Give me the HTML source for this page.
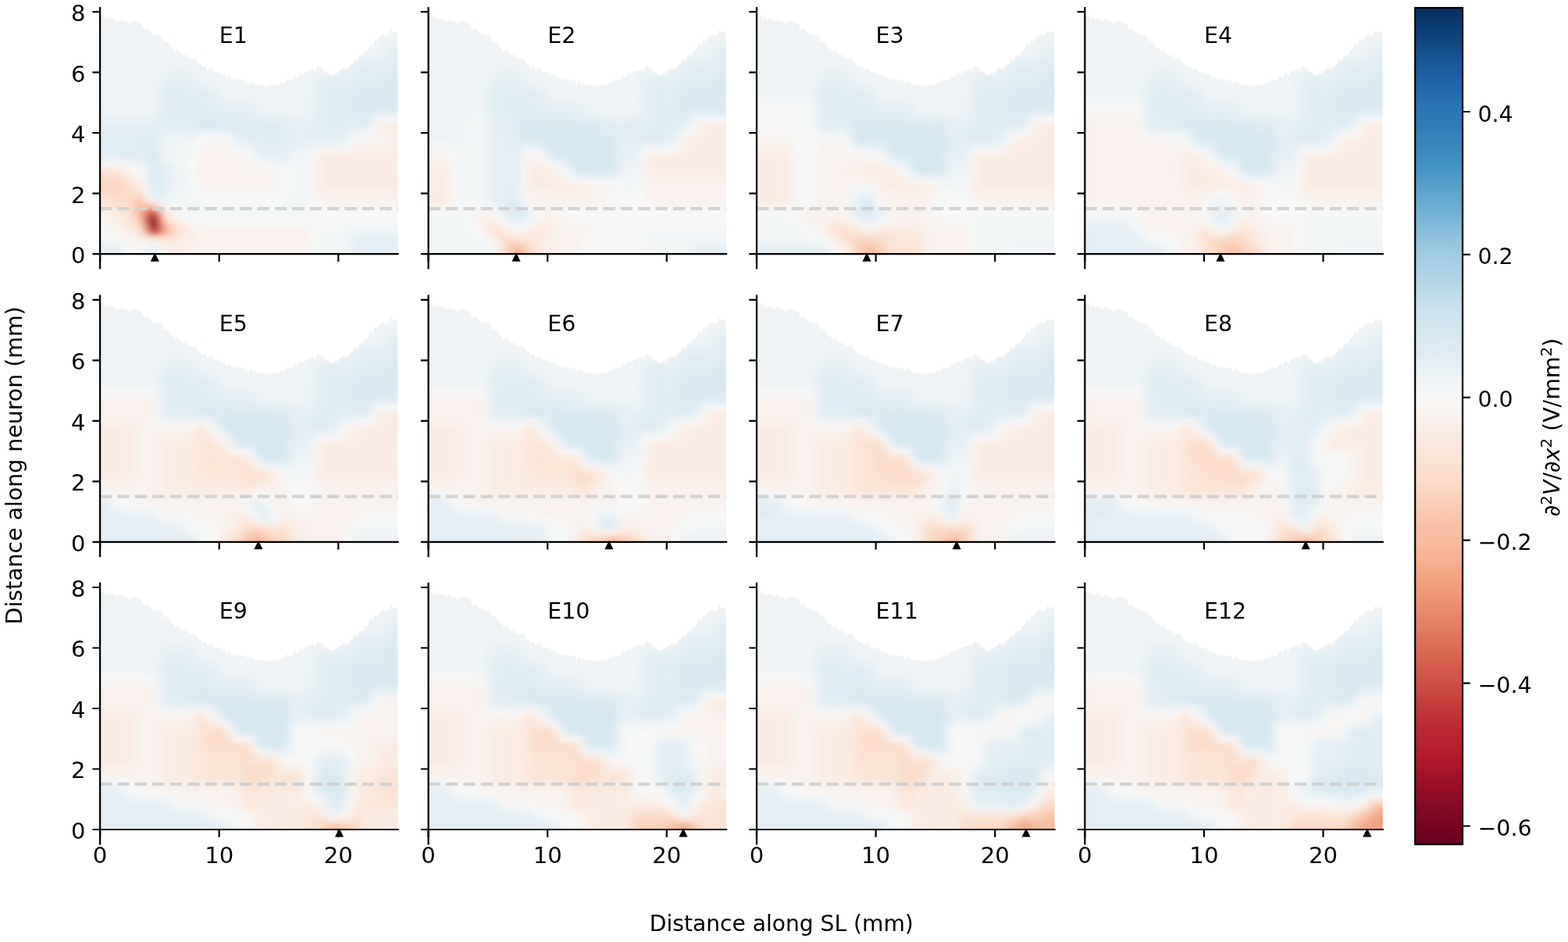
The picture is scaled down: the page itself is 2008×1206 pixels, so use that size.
<!DOCTYPE html>
<html><head><meta charset="utf-8"><style>
html,body{margin:0;padding:0;background:#fff;}
body{width:2008px;height:1206px;overflow:hidden;}
svg{display:block;}
text{font-family:"DejaVu Sans","Liberation Sans",sans-serif;font-size:27.78px;fill:#000;}
</style></head><body>
<svg width="2008" height="1206" viewBox="0 0 2008 1206">
<defs><clipPath id="hc"><path d="M0 0L0 -303.9L1.5 -305.8L3 -304.3L4.5 -305.7L6 -305.3L7.5 -300.8L9 -299.9L10.5 -305.1L12 -300.5L13.5 -299.7L15 -304.4L16.5 -300.2L18 -302.2L19.5 -299.1L21 -300L22.5 -296.4L24 -299.6L25.5 -301L27 -298.4L28.5 -299.7L30 -299L31.5 -294.6L33 -299.2L34.5 -297.9L36 -295.7L37.5 -293.6L39 -299.2L40.5 -296.3L42 -297.8L43.5 -298.7L45 -297.4L46.5 -298.6L48 -294.8L49.5 -297.4L51 -294L52.5 -296.3L54 -294.8L55.5 -288.3L57 -287.5L58.5 -287L60 -291.1L61.5 -286.3L63 -286.5L64.5 -283.3L66 -283.7L67.5 -281.9L69 -280.8L70.5 -281.4L72 -280.5L73.5 -281.8L75 -279.3L76.5 -280L78 -278.5L79.5 -278.2L81 -274.7L82.5 -269.9L84 -273.5L85.5 -273L87 -271.4L88.5 -267.8L90 -267.5L91.5 -262.8L93 -265.9L94.5 -262.8L96 -260L97.5 -257.7L99 -262.4L100.5 -262.6L102 -255.5L103.5 -259.6L105 -256.1L106.5 -253.5L108 -253.7L109.5 -256.2L111 -256.2L112.5 -249.6L114 -252.8L115.5 -248L117 -251.9L118.5 -248.4L120 -251.4L121.5 -251.2L123 -247L124.5 -249.5L126 -243.8L127.5 -241.3L129 -244L130.5 -239.2L132 -239.4L133.5 -240L135 -240.5L136.5 -236.4L138 -234.8L139.5 -239.6L141 -235.1L142.5 -239L144 -237.9L145.5 -233.6L147 -233.5L148.5 -233.3L150 -233.5L151.5 -232.5L153 -231.6L154.5 -231.4L156 -232.9L157.5 -229.3L159 -228.1L160.5 -229.4L162 -225.4L163.5 -225.2L165 -229.5L166.5 -225.9L168 -225.8L169.5 -221.7L171 -224.2L172.5 -225L174 -220.8L175.5 -224.6L177 -224.4L178.5 -220.1L180 -223.7L181.5 -222.2L183 -223.4L184.5 -220.8L186 -222.9L187.5 -222.8L189 -217.5L190.5 -217.4L192 -221.4L193.5 -223L195 -217.7L196.5 -218.8L198 -219.4L199.5 -217.2L201 -217.1L202.5 -216.4L204 -216.4L205.5 -217.7L207 -215.2L208.5 -215.4L210 -217.8L211.5 -212.2L213 -216.1L214.5 -217.5L216 -214.8L217.5 -214.4L219 -218.7L220.5 -215L222 -214.9L223.5 -216.8L225 -218.9L226.5 -215L228 -216.7L229.5 -217.1L231 -220.8L232.5 -218.5L234 -222.1L235.5 -218L237 -219.8L238.5 -222.7L240 -225L241.5 -222.6L243 -221.7L244.5 -221.6L246 -225.2L247.5 -223.5L249 -228.4L250.5 -229.3L252 -225.4L253.5 -226.9L255 -231.3L256.5 -231L258 -232.9L259.5 -230.5L261 -229.7L262.5 -231.6L264 -235.9L265.5 -233.1L267 -234.2L268.5 -235L270 -235.4L271.5 -235.6L273 -239.5L274.5 -234.5L276 -233.7L277.5 -240.6L279 -240.4L280.5 -241.5L282 -237.5L283.5 -239.9L285 -238.5L286.5 -232.3L288 -234.7L289.5 -234.1L291 -231.7L292.5 -230.5L294 -229.1L295.5 -229.7L297 -229.1L298.5 -228.3L300 -232.1L301.5 -230.2L303 -234.1L304.5 -229L306 -235.2L307.5 -234.6L309 -237.1L310.5 -237.9L312 -238.9L313.5 -237.6L315 -234.7L316.5 -240.7L318 -237.7L319.5 -239.6L321 -243.1L322.5 -243.4L324 -243.9L325.5 -248.9L327 -247.9L328.5 -247.4L330 -248.1L331.5 -253.6L333 -252.3L334.5 -255.7L336 -254L337.5 -254.5L339 -258.4L340.5 -262L342 -259.1L343.5 -265L345 -267.5L346.5 -268.3L348 -270L349.5 -265.9L351 -271.8L352.5 -275L354 -270.8L355.5 -273.8L357 -275.2L358.5 -278.5L360 -279.2L361.5 -280.8L363 -283.4L364.5 -278.4L366 -279.2L367.5 -280.1L369 -280.5L370.5 -280.6L372 -287.3L373.5 -286.9L375 -282L376.5 -285.2L378 -283.9L379.5 -283.9L381 -284.2L381.5 0Z"/></clipPath><filter id="hb" x="-10%" y="-10%" width="120%" height="120%"><feGaussianBlur stdDeviation="5 3"/></filter><linearGradient id="cb" x1="0" y1="0" x2="0" y2="1"><stop offset="0" stop-color="#053061"/><stop offset="0.01" stop-color="#073467"/><stop offset="0.02" stop-color="#0a3b70"/><stop offset="0.03" stop-color="#0e4179"/><stop offset="0.04" stop-color="#114781"/><stop offset="0.05" stop-color="#144e8a"/><stop offset="0.06" stop-color="#185493"/><stop offset="0.07" stop-color="#1b5a9c"/><stop offset="0.08" stop-color="#1d5fa2"/><stop offset="0.09" stop-color="#2065ab"/><stop offset="0.1" stop-color="#246aae"/><stop offset="0.11" stop-color="#2870b1"/><stop offset="0.12" stop-color="#2c75b4"/><stop offset="0.14" stop-color="#307ab6"/><stop offset="0.15" stop-color="#3480b9"/><stop offset="0.16" stop-color="#3783bb"/><stop offset="0.17" stop-color="#3b88be"/><stop offset="0.18" stop-color="#3f8ec0"/><stop offset="0.19" stop-color="#4393c3"/><stop offset="0.2" stop-color="#4c99c6"/><stop offset="0.21" stop-color="#569fc9"/><stop offset="0.22" stop-color="#5fa5cd"/><stop offset="0.23" stop-color="#65a9cf"/><stop offset="0.24" stop-color="#6eaed2"/><stop offset="0.25" stop-color="#78b4d5"/><stop offset="0.26" stop-color="#81bad8"/><stop offset="0.27" stop-color="#8ac0db"/><stop offset="0.28" stop-color="#93c6de"/><stop offset="0.29" stop-color="#9bc9e0"/><stop offset="0.3" stop-color="#a2cde3"/><stop offset="0.31" stop-color="#a7d0e4"/><stop offset="0.32" stop-color="#aed3e6"/><stop offset="0.33" stop-color="#b6d7e8"/><stop offset="0.34" stop-color="#bddbea"/><stop offset="0.35" stop-color="#c5dfec"/><stop offset="0.36" stop-color="#cce2ef"/><stop offset="0.38" stop-color="#d2e6f0"/><stop offset="0.39" stop-color="#d5e7f1"/><stop offset="0.4" stop-color="#dae9f2"/><stop offset="0.41" stop-color="#deebf2"/><stop offset="0.42" stop-color="#e3edf3"/><stop offset="0.43" stop-color="#e7f0f4"/><stop offset="0.44" stop-color="#ecf2f5"/><stop offset="0.45" stop-color="#f0f4f6"/><stop offset="0.46" stop-color="#f3f5f6"/><stop offset="0.47" stop-color="#f7f6f6"/><stop offset="0.48" stop-color="#f8f3f0"/><stop offset="0.49" stop-color="#f8f1ed"/><stop offset="0.5" stop-color="#f9eee7"/><stop offset="0.51" stop-color="#f9ebe3"/><stop offset="0.52" stop-color="#fae8de"/><stop offset="0.53" stop-color="#fbe6da"/><stop offset="0.54" stop-color="#fbe3d4"/><stop offset="0.55" stop-color="#fce0d0"/><stop offset="0.56" stop-color="#fdddcb"/><stop offset="0.57" stop-color="#fddbc7"/><stop offset="0.58" stop-color="#fcd5bf"/><stop offset="0.59" stop-color="#fbd0b9"/><stop offset="0.6" stop-color="#facab1"/><stop offset="0.61" stop-color="#f9c6ac"/><stop offset="0.62" stop-color="#f8bfa4"/><stop offset="0.64" stop-color="#f8bb9e"/><stop offset="0.65" stop-color="#f7b596"/><stop offset="0.66" stop-color="#f6b191"/><stop offset="0.67" stop-color="#f5aa89"/><stop offset="0.68" stop-color="#f4a683"/><stop offset="0.69" stop-color="#f19e7d"/><stop offset="0.7" stop-color="#ef9979"/><stop offset="0.71" stop-color="#eb9172"/><stop offset="0.72" stop-color="#e98b6e"/><stop offset="0.73" stop-color="#e58368"/><stop offset="0.74" stop-color="#e37e64"/><stop offset="0.75" stop-color="#df765e"/><stop offset="0.76" stop-color="#dd7059"/><stop offset="0.77" stop-color="#da6853"/><stop offset="0.78" stop-color="#d7634f"/><stop offset="0.79" stop-color="#d35a4a"/><stop offset="0.8" stop-color="#d05548"/><stop offset="0.81" stop-color="#cc4c44"/><stop offset="0.82" stop-color="#c94741"/><stop offset="0.83" stop-color="#c53e3d"/><stop offset="0.84" stop-color="#c2383a"/><stop offset="0.85" stop-color="#be3036"/><stop offset="0.86" stop-color="#bb2a34"/><stop offset="0.88" stop-color="#b72230"/><stop offset="0.89" stop-color="#b41c2d"/><stop offset="0.9" stop-color="#ae172a"/><stop offset="0.91" stop-color="#a81529"/><stop offset="0.92" stop-color="#9f1228"/><stop offset="0.93" stop-color="#991027"/><stop offset="0.94" stop-color="#900d26"/><stop offset="0.95" stop-color="#8a0b25"/><stop offset="0.96" stop-color="#810823"/><stop offset="0.97" stop-color="#7c0722"/><stop offset="0.98" stop-color="#730421"/><stop offset="0.99" stop-color="#6d0220"/><stop offset="1" stop-color="#67001f"/></linearGradient></defs>
<g transform="translate(128.1 325.2)"><g clip-path="url(#hc)"><g filter="url(#hb)" stroke-width="8"><path stroke="#810823" d="M64 -36h8M64 -44h8"/><path stroke="#ba2832" d="M64 -52h8"/><path stroke="#bf3338" d="M64 -28h8"/><path stroke="#cc4c44" d="M72 -36h8"/><path stroke="#d35a4a" d="M56 -44h8"/><path stroke="#d6604d" d="M72 -44h8"/><path stroke="#dc6e57" d="M72 -28h8M56 -36h8"/><path stroke="#de735c" d="M56 -52h8"/><path stroke="#ec9374" d="M72 -52h8"/><path stroke="#f2a17f" d="M56 -28h8"/><path stroke="#f5ac8b" d="M48 -52h8"/><path stroke="#f6b191" d="M80 -28h8"/><path stroke="#f7b596" d="M56 -60h8"/><path stroke="#f7b99c" d="M80 -36h8M48 -44h8M48 -60h8M64 -60h8"/><path stroke="#f8bfa4" d="M48 -68h8"/><path stroke="#fbceb7" d="M88 -28h8M40 -52h8"/><path stroke="#fcd3bc" d="M48 -36h8M88 -36h8M40 -60h8M40 -68h8M16 -84h8"/><path stroke="#fcd7c2" d="M-16 -84h32M24 -84h8M-16 -92h40"/><path stroke="#fdd9c4" d="M40 -44h8M80 -44h8M16 -76h16"/><path stroke="#fddcc9" d="M80 -20h8M24 -68h16M8 -76h8M32 -76h24M32 -84h8M24 -92h8"/><path stroke="#fcdecd" d="M64 -20h16M72 -60h8M16 -68h8M-16 -76h24M-16 -100h40"/><path stroke="#fce0d0" d="M96 -28h8M40 -36h8M32 -60h8M32 -92h8"/><path stroke="#fce2d2" d="M88 -20h8M48 -28h8M24 -60h8M8 -68h8M40 -84h8"/><path stroke="#fbe4d6" d="M32 -52h8M16 -60h8M-16 -68h24M24 -100h8"/><path stroke="#fbe6da" d="M104 -28h8M96 -36h8M32 -44h8M88 -44h8M24 -52h8M56 -68h8M-16 -108h40"/><path stroke="#fae8de" d="M56 -20h8M96 -20h8M40 -28h8M80 -52h8M8 -60h8"/><path stroke="#fae9df" d="M104 -20h8M32 -36h8M24 -44h8M16 -52h8M-16 -60h24M48 -84h8M40 -92h8M32 -100h8"/><path stroke="#f9ebe3" d="M96 4h8M96 -4h8M80 -12h24M112 -20h8M112 -28h8M104 -36h8M280 -84h120M280 -92h120M280 -100h120M24 -108h8M280 -108h120M280 -116h120M280 -124h120M360 -164h40"/><path stroke="#f9eee7" d="M104 -12h8M32 -28h8M24 -36h8M16 -44h8M8 -52h8M328 -132h72M360 -156h40"/><path stroke="#f9f0eb" d="M88 4h8M104 4h8M88 -4h8M104 -4h8M112 -12h8M40 -20h16M120 -20h8M120 -28h8M112 -36h8M-16 -52h24M56 -76h8M280 -76h120M40 -100h8M320 -132h8M328 -140h72M352 -164h8"/><path stroke="#f8f1ed" d="M80 4h8M112 4h152M80 -4h8M112 -4h152M120 -12h144M32 -20h8M128 -20h136M24 -28h8M128 -28h136M16 -36h8M8 -44h8M96 -44h8M88 -52h8M280 -68h120M272 -84h8M48 -92h8M128 -92h96M272 -92h8M128 -100h96M272 -100h8M32 -108h8M128 -108h48M272 -108h8M128 -116h48M272 -116h8M128 -124h48M272 -124h8M144 -132h16M312 -132h8M144 -140h16M352 -148h48M352 -156h8"/><path stroke="#f8f3f0" d="M264 4h8M264 -4h8M264 -12h8M264 -20h8M16 -28h8M264 -28h8M8 -36h8M120 -36h8M-16 -44h24M104 -44h8M80 -60h8M272 -76h8M128 -84h96M176 -108h48M176 -116h16M176 -124h8M128 -132h16M160 -132h8M280 -132h32M136 -140h8M320 -140h8M344 -148h8"/><path stroke="#f7f5f4" d="M32 -12h24M72 -12h8M24 -20h8M8 -28h8M-16 -36h24M128 -36h144M280 -60h120M272 -68h8M136 -76h88M224 -84h8M120 -92h8M224 -92h8M48 -100h8M120 -100h8M224 -100h8M40 -108h8M120 -108h8M224 -108h8M-16 -116h40M120 -116h8M120 -124h8M184 -124h8M128 -140h8M160 -140h8M144 -148h16M328 -148h16"/><path stroke="#f6f7f7" d="M40 4h16M272 4h8M40 -4h16M272 -4h8M272 -12h8M-16 -20h40M272 -20h8M-16 -28h24M272 -28h8M272 -36h8M112 -44h16M280 -44h32M96 -52h8M280 -52h120M88 -60h8M272 -60h8M144 -68h80M128 -76h8M224 -76h8M120 -84h8M232 -84h8M232 -92h8M232 -100h8M48 -108h8M232 -108h8M192 -116h8M120 -132h8M168 -132h8M272 -132h8M120 -140h8M136 -148h8M360 -172h40"/><path stroke="#f5f6f7" d="M32 4h8M32 -4h8M56 -12h8M280 -36h32M128 -44h152M312 -44h88M104 -52h8M272 -52h8M96 -60h8M136 -60h96M136 -68h8M224 -68h8M120 -76h8M232 -76h16M56 -84h8M240 -84h8M264 -84h8M112 -92h8M240 -92h8M264 -92h8M112 -100h8M240 -100h8M264 -100h8M112 -108h8M240 -108h8M264 -108h8M24 -116h8M112 -116h8M264 -116h8M112 -124h8M264 -124h8M176 -132h8M128 -148h8M320 -148h8M344 -156h8"/><path stroke="#f2f5f6" d="M280 4h32M280 -4h32M24 -12h8M280 -12h32M280 -20h32M280 -28h40M312 -36h88M112 -52h160M104 -60h32M232 -60h40M96 -68h40M232 -68h40M96 -76h24M248 -76h24M104 -84h16M248 -84h16M248 -92h16M248 -100h16M104 -108h8M248 -108h16M104 -116h8M200 -116h24M248 -116h16M96 -124h16M192 -124h8M248 -124h16M96 -132h24M184 -132h8M96 -140h24M312 -140h8M120 -148h8M160 -148h8M352 -172h8"/><path stroke="#eff3f5" d="M56 4h8M72 4h8M312 4h8M56 -4h8M72 -4h8M312 -4h8M64 -12h8M312 -12h8M312 -20h8M80 -68h16M96 -84h8M96 -92h16M96 -100h16M96 -108h8M32 -116h8M96 -116h8M224 -116h8M240 -116h8M88 -124h8M80 -132h16M264 -132h8M80 -140h16M168 -140h8M96 -148h24M-16 -188h88M208 -188h56M-16 -196h88M208 -196h56M-16 -204h88M160 -204h104M-16 -212h88M160 -212h104M-16 -220h88M160 -220h104M-16 -228h88M128 -228h136M-16 -236h88M128 -236h144M-16 -244h328M-16 -252h328M-16 -260h336M-16 -268h376M-16 -276h376M-16 -284h416M-16 -292h416M-16 -300h416M-16 -308h416M-16 -316h416M-16 -324h416"/><path stroke="#ecf2f5" d="M-16 -12h40M320 -28h80M88 -76h8M56 -92h8M56 -100h8M40 -116h16M88 -116h8M232 -116h8M80 -124h8M240 -124h8M192 -132h8M248 -132h16M280 -140h32M80 -148h16M328 -156h16M344 -164h8M-16 -180h88M240 -180h24M200 -188h8M264 -188h8M192 -196h16M264 -196h8M152 -204h8M264 -204h8M152 -212h8M264 -212h8M128 -220h32M264 -220h8M264 -228h8M72 -236h8M120 -236h8M272 -236h8M312 -244h8M312 -252h8M320 -260h40M360 -268h8M360 -276h40"/><path stroke="#eaf1f5" d="M24 4h8M24 -4h8M320 -20h8M56 -108h8M176 -140h16M272 -140h8M136 -156h24M320 -156h8M200 -180h40M264 -180h8M160 -196h32M144 -212h8M72 -220h8M72 -228h8M120 -228h8M272 -228h8M80 -236h40M280 -236h40M320 -252h40M360 -260h8"/><path stroke="#e7f0f4" d="M320 4h8M320 -4h8M320 -12h8M64 -68h16M80 -76h8M88 -84h8M88 -92h8M88 -100h8M88 -108h8M80 -116h8M200 -124h8M240 -132h8M248 -140h24M168 -148h8M312 -148h8M88 -156h48M160 -156h8M-16 -172h88M248 -172h24M72 -188h8M192 -188h8M72 -196h8M152 -196h8M72 -204h8M72 -212h8M136 -212h8M272 -212h8M120 -220h8M272 -220h8M80 -228h40M280 -228h32M320 -244h8M360 -252h8M368 -268h32"/><path stroke="#e4eef4" d="M-16 4h40M64 4h8M328 4h72M-16 -4h40M64 -4h8M328 -4h72M328 -12h72M328 -20h72M56 -116h8M-16 -124h40M208 -124h32M72 -132h8M200 -132h8M72 -140h8M192 -140h8M240 -140h8M248 -148h16M80 -156h8M248 -156h16M248 -164h16M216 -172h32M344 -172h8M72 -180h8M192 -180h8M272 -180h8M152 -188h40M272 -188h8M272 -196h8M144 -204h8M272 -204h8M120 -212h16M112 -220h8M312 -228h8M320 -236h8M328 -244h32M368 -260h8"/><path stroke="#e1edf3" d="M64 -76h16M80 -84h8M24 -124h32M72 -124h8M208 -132h32M200 -140h8M72 -148h8M176 -148h16M240 -148h8M264 -148h48M-16 -156h72M72 -156h8M240 -156h8M264 -156h16M312 -156h8M-16 -164h96M240 -164h8M264 -164h8M72 -172h8M200 -172h16M272 -172h8M160 -180h32M352 -180h48M144 -196h8M136 -204h8M112 -212h8M80 -220h32M280 -220h40M320 -228h8M328 -236h32M360 -244h8M368 -252h32M376 -260h24"/><path stroke="#e0ecf3" d="M80 -92h8M80 -100h8M80 -108h8M72 -116h8M-16 -132h72M-16 -140h72M208 -140h32M-16 -148h72M192 -148h16M216 -148h24M56 -156h16M168 -156h8M216 -156h24M280 -156h32M80 -164h40M224 -164h16M272 -164h72M80 -172h40M192 -172h8M280 -172h32M80 -180h40M144 -180h16M280 -180h32M80 -188h72M280 -188h32M80 -196h64M280 -196h32M80 -204h56M280 -204h32M80 -212h32M280 -212h40M320 -220h8M328 -228h32M360 -236h8M368 -244h32"/><path stroke="#ddebf2" d="M64 -84h16M72 -92h8M72 -100h8M72 -108h8M56 -124h8M56 -132h8M56 -140h8M56 -148h8M208 -148h8M176 -156h40M120 -164h8M208 -164h16M120 -172h8M144 -172h48M312 -172h32M120 -180h24M312 -180h16M344 -180h8M312 -188h8M312 -196h8M312 -204h8M320 -212h40M328 -220h40M360 -228h8M368 -236h32"/><path stroke="#dae9f2" d="M64 -92h8M64 -100h8M64 -108h8M64 -116h8M64 -124h8M64 -132h8M64 -140h8M64 -148h8M128 -164h80M128 -172h16M328 -180h16M320 -188h80M320 -196h80M320 -204h80M360 -212h40M368 -220h32M368 -228h32"/></g></g></g>
<g transform="translate(548.6 325.2)"><g clip-path="url(#hc)"><g filter="url(#hb)" stroke-width="8"><path stroke="#f5aa89" d="M112 4h8M112 -4h8"/><path stroke="#f8bb9e" d="M104 4h8M104 -4h8"/><path stroke="#fac8af" d="M120 4h8M120 -4h8"/><path stroke="#facab1" d="M112 -12h8"/><path stroke="#fbceb7" d="M104 -12h8"/><path stroke="#fcd7c2" d="M96 -12h8"/><path stroke="#fdd9c4" d="M96 4h8M96 -4h8M120 -12h8M96 -20h8"/><path stroke="#fcdecd" d="M128 4h8M128 -4h8"/><path stroke="#fce2d2" d="M128 -12h8M104 -20h8M80 -28h8"/><path stroke="#fbe4d6" d="M88 -20h8M88 -28h8M80 -36h8"/><path stroke="#fbe6da" d="M136 4h8M136 -4h8M88 -12h8M120 -20h16"/><path stroke="#fae8de" d="M136 -12h8M112 -20h8M136 -20h8M96 -28h8M136 -28h16"/><path stroke="#fae9df" d="M128 -28h8M72 -36h8M144 -36h8"/><path stroke="#f9ebe3" d="M88 4h8M144 4h8M88 -4h8M144 -4h8M144 -12h8M144 -20h8M72 -28h8M152 -28h8M88 -36h8M136 -36h8M152 -36h8M-16 -68h40M-16 -76h40M-16 -84h40M128 -84h80M-16 -92h40M128 -92h40M-16 -100h40M128 -100h32M-16 -108h40M128 -108h24M280 -108h120M128 -116h8M280 -116h120M280 -124h120M328 -132h72M328 -140h72M344 -148h56M352 -156h48M352 -164h48"/><path stroke="#f9eee7" d="M80 -20h8M104 -28h8M120 -28h8M160 -28h8M64 -44h24M64 -52h8M168 -92h8M160 -100h8M280 -100h120M152 -108h8M128 -124h8M320 -132h8M328 -148h16M344 -156h8"/><path stroke="#f9f0eb" d="M152 4h8M152 -4h8M152 -12h8M152 -20h8M160 -36h8M144 -44h16M24 -68h8M24 -76h8M128 -76h80M24 -84h8M208 -84h8M24 -92h8M176 -92h8M24 -100h8M-16 -116h40M136 -116h8M344 -164h8"/><path stroke="#f8f1ed" d="M160 4h32M160 -4h32M160 -12h32M160 -20h32M112 -28h8M168 -28h24M64 -36h8M128 -36h8M168 -36h8M160 -44h8M72 -52h8M144 -52h16M-16 -60h40M144 -60h16M128 -68h96M280 -68h120M208 -76h16M280 -76h120M216 -84h8M280 -84h120M280 -92h120M168 -100h8M24 -108h8M160 -108h8M-16 -124h40M320 -140h8M336 -156h8"/><path stroke="#f8f3f0" d="M192 4h8M192 -4h8M192 -12h8M72 -20h8M192 -20h8M192 -28h16M96 -36h8M176 -36h32M56 -44h8M136 -44h8M56 -52h8M160 -52h8M160 -60h16M224 -76h8M224 -84h16M184 -92h8M272 -100h8M272 -108h8M24 -116h8M144 -116h8M136 -124h8M312 -132h8"/><path stroke="#f7f5f4" d="M80 -12h8M200 -20h8M64 -28h8M208 -28h8M56 -36h8M208 -36h8M168 -44h40M80 -52h8M168 -52h8M24 -60h8M64 -60h8M136 -60h8M176 -60h56M272 -60h128M224 -68h8M272 -68h8M232 -76h8M272 -76h8M120 -84h8M272 -84h8M120 -92h8M192 -92h16M272 -92h8M120 -100h8M120 -108h8M120 -116h8M272 -116h8M24 -124h8M120 -124h8M272 -124h8M-16 -132h40M280 -132h32"/><path stroke="#f6f7f7" d="M200 4h72M200 -4h72M200 -12h72M208 -20h64M56 -28h8M216 -28h56M120 -36h8M216 -36h56M88 -44h8M208 -44h192M-16 -52h40M48 -52h8M136 -52h8M176 -52h224M56 -60h8M232 -60h40M232 -68h40M240 -76h8M240 -84h8M208 -92h8M176 -100h8M168 -108h8M24 -132h8M128 -132h8M320 -148h8M336 -164h8M360 -172h40"/><path stroke="#f5f6f7" d="M272 4h8M272 -4h8M72 -12h8M272 -12h8M64 -20h8M272 -20h8M272 -28h8M48 -36h8M104 -36h8M272 -36h128M40 -44h16M24 -52h8M40 -52h8M32 -60h8M48 -60h8M72 -60h8M128 -60h8M32 -68h8M32 -76h8M120 -76h8M248 -76h24M32 -84h8M264 -84h8M32 -92h8M216 -92h24M32 -100h8M32 -108h8M32 -116h8M152 -116h8M32 -124h8M328 -156h8M352 -172h8"/><path stroke="#f2f5f6" d="M-16 4h104M280 4h48M-16 -4h104M280 -4h48M-16 -12h88M280 -12h48M-16 -20h80M280 -20h120M-16 -28h72M280 -28h120M-16 -36h64M-16 -44h56M32 -52h8M40 -60h8M40 -68h32M120 -68h8M40 -76h32M40 -84h32M248 -84h16M40 -92h32M240 -92h32M40 -100h32M264 -100h8M40 -108h32M40 -116h32M40 -124h32M144 -124h8M32 -132h40M272 -132h8M-16 -140h48M48 -140h24M48 -148h24M48 -156h24M48 -164h24M56 -172h16M344 -172h8"/><path stroke="#eff3f5" d="M328 4h8M328 -4h8M328 -12h8M112 -36h8M128 -44h8M80 -60h8M248 -100h16M264 -108h8M120 -132h8M136 -132h8M32 -140h16M312 -140h8M-16 -148h64M-16 -156h64M-16 -164h64M-16 -172h72M-16 -180h88M-16 -188h88M208 -188h56M-16 -196h88M208 -196h56M-16 -204h88M160 -204h104M-16 -212h88M160 -212h104M-16 -220h88M160 -220h104M-16 -228h88M128 -228h136M-16 -236h88M128 -236h144M-16 -244h328M-16 -252h328M-16 -260h336M-16 -268h376M-16 -276h376M-16 -284h416M-16 -292h416M-16 -300h416M-16 -308h416M-16 -316h416M-16 -324h416"/><path stroke="#ecf2f5" d="M336 -12h8M96 -44h8M88 -52h8M128 -52h8M248 -108h16M160 -116h8M320 -156h8M336 -172h8M224 -180h40M200 -188h8M264 -188h8M192 -196h16M264 -196h8M152 -204h8M264 -204h8M152 -212h8M264 -212h8M128 -220h32M264 -220h8M264 -228h8M72 -236h8M120 -236h8M272 -236h8M312 -244h8M312 -252h8M320 -260h40M360 -268h8M360 -276h40"/><path stroke="#eaf1f5" d="M344 -12h56M120 -60h8M72 -68h8M72 -76h8M72 -84h8M72 -92h8M72 -100h8M184 -100h8M240 -100h8M72 -108h8M176 -108h8M72 -116h8M248 -116h24M72 -124h8M72 -132h8M72 -140h8M280 -140h32M72 -148h8M72 -156h8M72 -164h8M72 -172h8M200 -180h24M264 -180h8M160 -196h32M144 -212h8M72 -220h8M72 -228h8M120 -228h8M272 -228h8M80 -236h40M280 -236h40M320 -252h40M360 -260h8"/><path stroke="#e7f0f4" d="M336 4h8M336 -4h8M120 -44h8M88 -60h8M112 -84h8M112 -92h8M112 -100h8M112 -108h8M112 -116h8M168 -116h8M112 -124h8M264 -124h8M144 -132h8M272 -140h8M328 -164h8M232 -172h24M72 -180h8M72 -188h8M192 -188h8M72 -196h8M152 -196h8M72 -204h8M72 -212h8M136 -212h8M272 -212h8M120 -220h8M272 -220h8M80 -228h40M280 -228h32M320 -244h8M360 -252h8M368 -268h32"/><path stroke="#e4eef4" d="M344 4h56M344 -4h56M104 -44h8M80 -68h16M80 -76h16M112 -76h8M80 -84h16M80 -92h32M80 -100h32M192 -100h24M224 -100h16M80 -108h32M80 -116h32M80 -124h32M248 -124h16M80 -132h16M112 -132h8M248 -132h24M80 -140h16M120 -140h16M248 -140h24M80 -148h16M312 -148h8M80 -156h16M80 -164h16M216 -172h16M256 -172h16M192 -180h8M272 -180h8M152 -188h40M272 -188h8M272 -196h8M144 -204h8M272 -204h8M120 -212h16M112 -220h8M312 -228h8M320 -236h8M328 -244h32M368 -260h8"/><path stroke="#e1edf3" d="M112 -44h8M96 -52h8M120 -52h8M96 -60h8M96 -68h8M112 -68h8M96 -76h16M96 -84h16M216 -100h8M240 -108h8M176 -116h8M240 -116h8M152 -124h8M96 -132h16M96 -140h16M96 -148h8M248 -148h24M96 -156h8M240 -156h24M312 -156h8M96 -164h8M232 -164h32M80 -172h24M200 -172h16M272 -172h8M328 -172h8M160 -180h32M344 -180h56M144 -196h8M136 -204h8M112 -212h8M80 -220h32M280 -220h40M320 -228h8M328 -236h32M360 -244h8M368 -252h32M376 -260h24"/><path stroke="#e0ecf3" d="M104 -52h8M104 -60h16M104 -68h8M240 -124h8M240 -132h8M112 -140h8M136 -140h8M240 -140h8M104 -148h8M240 -148h8M272 -148h40M104 -156h8M232 -156h8M264 -156h48M224 -164h8M264 -164h64M192 -172h8M280 -172h32M80 -180h32M144 -180h16M280 -180h32M336 -180h8M80 -188h72M280 -188h32M80 -196h64M280 -196h32M80 -204h56M280 -204h32M80 -212h32M280 -212h40M320 -220h8M328 -228h32M360 -236h8M368 -244h32"/><path stroke="#ddebf2" d="M112 -52h8M144 -140h8M112 -148h8M112 -156h8M224 -156h8M104 -164h8M216 -164h8M104 -172h8M144 -172h48M312 -172h16M112 -180h32M312 -180h24M312 -188h8M312 -196h8M312 -204h8M320 -212h40M328 -220h40M360 -228h8M368 -236h32"/><path stroke="#dae9f2" d="M184 -108h8M232 -108h8M232 -116h8M160 -124h8M232 -124h8M152 -132h8M232 -132h8M232 -140h8M120 -148h16M232 -148h8M120 -156h16M216 -156h8M112 -164h104M112 -172h32M320 -188h80M320 -196h80M320 -204h80M360 -212h40M368 -220h32M368 -228h32"/><path stroke="#d7e8f1" d="M224 -108h8M184 -116h8M224 -116h8M168 -124h16M224 -124h8M224 -132h8M152 -140h8M224 -140h8M136 -148h8M224 -148h8M136 -156h80"/><path stroke="#d5e7f1" d="M192 -108h32M192 -116h32M184 -124h40M160 -132h64M160 -140h64M144 -148h80"/></g></g></g>
<g transform="translate(969.0 325.2)"><g clip-path="url(#hc)"><g filter="url(#hb)" stroke-width="8"><path stroke="#f8bfa4" d="M144 4h8M144 -4h8"/><path stroke="#f9c4a9" d="M136 4h8M136 -4h8"/><path stroke="#facab1" d="M152 4h8M152 -4h8M136 -12h16"/><path stroke="#fbceb7" d="M128 4h8M128 -4h8M128 -12h8"/><path stroke="#fcd3bc" d="M152 -12h8"/><path stroke="#fcd7c2" d="M160 4h8M160 -4h8M128 -20h8"/><path stroke="#fdd9c4" d="M120 -20h8M136 -20h8"/><path stroke="#fddcc9" d="M120 -12h8M160 -12h8M144 -20h8"/><path stroke="#fcdecd" d="M112 -20h8M152 -20h8"/><path stroke="#fce0d0" d="M120 4h8M168 4h8M120 -4h8M168 -4h8M160 -20h8"/><path stroke="#fce2d2" d="M168 -12h8M96 -28h32"/><path stroke="#fbe4d6" d="M176 4h32M176 -4h32M176 -12h32M168 -20h8M128 -28h8M160 -28h8M96 -36h8"/><path stroke="#fbe6da" d="M112 -12h8M104 -20h8M176 -20h32M152 -28h8M104 -36h8"/><path stroke="#fae8de" d="M168 -28h8M112 -36h8"/><path stroke="#fae9df" d="M208 4h8M208 -4h8M208 -12h8M208 -20h8M88 -28h8M176 -28h32M88 -36h8"/><path stroke="#f9ebe3" d="M136 -28h8M120 -36h8M-16 -68h56M-16 -76h56M-16 -84h56M160 -84h64M280 -84h120M-16 -92h56M160 -92h24M280 -92h120M-16 -100h56M152 -100h24M280 -100h120M-16 -108h56M128 -108h40M280 -108h120M-16 -116h56M280 -116h120M-16 -124h56M280 -124h120M328 -132h72M328 -140h72M352 -148h48M360 -156h40M360 -164h40"/><path stroke="#f9eee7" d="M104 -12h8M96 -20h8M144 -28h8M208 -28h8M160 -36h48M96 -44h16M64 -52h8M152 -92h8M184 -92h8M144 -100h8M176 -100h8M120 -108h8M168 -108h8M-16 -132h56M320 -132h8M344 -148h8M352 -156h8"/><path stroke="#f9f0eb" d="M112 4h8M112 -4h8M208 -36h8M64 -44h16M88 -44h8M112 -44h8M72 -52h8M40 -68h8M40 -76h8M160 -76h64M280 -76h120M40 -84h8M152 -84h8M40 -92h8M192 -92h8M40 -100h8M120 -100h24M40 -108h8M40 -116h8M120 -116h40M40 -124h8M-16 -140h56M328 -148h16M352 -164h8"/><path stroke="#f8f1ed" d="M216 4h48M216 -4h48M216 -12h48M88 -20h8M216 -20h48M216 -28h48M80 -36h8M128 -36h8M152 -36h8M216 -36h8M80 -44h8M176 -44h48M80 -52h32M176 -52h48M-16 -60h56M72 -60h40M176 -60h48M80 -68h32M160 -68h64M280 -68h120M80 -76h32M80 -84h32M224 -84h8M272 -84h8M80 -92h32M272 -92h8M80 -100h40M184 -100h8M80 -108h40M176 -108h8M80 -116h40M80 -124h64M40 -132h8M80 -132h16M80 -140h16M320 -140h8"/><path stroke="#f8f3f0" d="M264 4h8M264 -4h8M96 -12h8M264 -12h8M264 -20h8M80 -28h8M264 -28h8M64 -36h16M224 -36h48M56 -44h8M168 -44h8M224 -44h8M56 -52h8M40 -60h8M64 -60h8M168 -60h8M112 -76h8M224 -76h8M272 -76h8M112 -84h8M112 -92h40M200 -92h8M272 -100h8M272 -108h8M160 -116h8M144 -124h8M96 -132h16M312 -132h8M40 -140h8M96 -140h8M-16 -148h56"/><path stroke="#f7f5f4" d="M104 4h8M104 -4h8M72 -28h8M232 -44h32M112 -52h8M168 -52h8M224 -52h8M56 -60h8M112 -60h8M224 -60h8M280 -60h120M48 -68h8M72 -68h8M112 -68h8M224 -68h8M272 -68h8M48 -76h8M72 -76h8M152 -76h8M48 -84h8M72 -84h8M48 -92h8M72 -92h8M208 -92h16M48 -100h8M72 -100h8M48 -108h8M72 -108h8M48 -116h8M72 -116h8M272 -116h8M48 -124h8M72 -124h8M152 -124h8M272 -124h8M72 -132h8M112 -132h8M280 -132h32M72 -140h8M104 -140h8M40 -148h8M80 -148h24M-16 -156h64"/><path stroke="#f6f7f7" d="M96 4h8M272 4h8M96 -4h8M272 -4h8M272 -12h8M80 -20h8M272 -20h8M64 -28h8M272 -28h8M56 -36h8M272 -36h8M264 -44h8M-16 -52h72M232 -52h40M48 -60h8M232 -60h48M56 -68h16M232 -68h40M56 -76h16M232 -76h16M264 -76h8M56 -84h16M120 -84h8M144 -84h8M232 -84h8M56 -92h16M224 -92h8M56 -100h16M56 -108h16M184 -108h8M56 -116h16M56 -124h16M48 -132h24M48 -140h24M112 -140h8M48 -148h32M104 -148h8M320 -148h8M48 -156h24M344 -156h8M-16 -164h88M-16 -172h88M360 -172h40M-16 -180h88"/><path stroke="#f5f6f7" d="M88 -12h8M72 -20h8M56 -28h8M48 -36h8M136 -36h8M40 -44h16M120 -44h8M160 -44h8M272 -44h8M272 -52h128M160 -60h8M152 -68h8M248 -76h16M128 -84h8M240 -84h8M264 -84h8M192 -100h8M120 -132h8M-16 -188h88"/><path stroke="#f2f5f6" d="M280 4h40M280 -4h40M280 -12h48M-16 -20h88M280 -20h120M-16 -28h72M280 -28h120M-16 -36h64M144 -36h8M280 -36h120M-16 -44h56M280 -44h120M120 -76h8M136 -84h8M248 -84h16M248 -92h24M264 -100h8M168 -116h8M160 -124h8M128 -132h16M272 -132h8M112 -148h8M72 -156h8M328 -156h16M352 -172h8M-16 -196h88"/><path stroke="#eff3f5" d="M320 4h80M320 -4h80M80 -12h8M328 -12h72M232 -92h16M248 -100h16M264 -108h8M144 -132h8M312 -140h8M208 -188h56M208 -196h56M-16 -204h88M160 -204h104M-16 -212h88M160 -212h104M-16 -220h88M160 -220h104M-16 -228h88M128 -228h136M-16 -236h88M128 -236h144M-16 -244h328M-16 -252h328M-16 -260h336M-16 -268h376M-16 -276h376M-16 -284h416M-16 -292h416M-16 -300h416M-16 -308h416M-16 -316h416M-16 -324h416"/><path stroke="#ecf2f5" d="M88 4h8M88 -4h8M72 -12h8M160 -52h8M120 -60h8M152 -60h8M120 -68h8M144 -76h8M248 -108h16M176 -116h8M152 -132h8M80 -156h24M320 -156h8M72 -164h8M344 -164h8M240 -180h24M200 -188h8M264 -188h8M192 -196h16M264 -196h8M152 -204h8M264 -204h8M152 -212h8M264 -212h8M128 -220h32M264 -220h8M264 -228h8M72 -236h8M120 -236h8M272 -236h8M312 -244h8M312 -252h8M320 -260h40M360 -268h8M360 -276h40"/><path stroke="#eaf1f5" d="M-16 -12h88M128 -44h8M152 -44h8M120 -52h8M128 -76h8M200 -100h8M240 -100h8M192 -108h8M248 -116h24M120 -140h8M280 -140h32M104 -156h8M72 -172h8M72 -180h8M200 -180h40M264 -180h8M72 -188h8M160 -196h32M144 -212h8M72 -220h8M72 -228h8M120 -228h8M272 -228h8M80 -236h40M280 -236h40M320 -252h40M360 -260h8"/><path stroke="#e7f0f4" d="M136 -76h8M184 -116h8M264 -124h8M160 -132h8M272 -140h8M112 -156h8M248 -172h24M192 -188h8M72 -196h8M152 -196h8M72 -204h8M72 -212h8M136 -212h8M272 -212h8M120 -220h8M272 -220h8M80 -228h40M280 -228h32M320 -244h8M360 -252h8M368 -268h32"/><path stroke="#e4eef4" d="M-16 4h104M-16 -4h104M136 -44h16M152 -52h8M208 -100h32M248 -124h16M248 -132h24M248 -140h24M248 -148h16M312 -148h8M248 -156h16M248 -164h16M216 -172h32M344 -172h8M192 -180h8M272 -180h8M152 -188h40M272 -188h8M272 -196h8M144 -204h8M272 -204h8M120 -212h16M112 -220h8M312 -228h8M320 -236h8M328 -244h32M368 -260h8"/><path stroke="#e1edf3" d="M128 -68h8M144 -68h8M240 -108h8M240 -116h8M168 -124h8M264 -148h8M264 -156h8M312 -156h8M264 -164h8M200 -172h16M272 -172h8M160 -180h32M352 -180h48M144 -196h8M136 -204h8M112 -212h8M80 -220h32M280 -220h40M320 -228h8M328 -236h32M360 -244h8M368 -252h32M376 -260h24"/><path stroke="#e0ecf3" d="M128 -52h8M128 -60h8M144 -60h8M192 -116h8M240 -124h8M128 -140h32M120 -148h8M272 -148h40M240 -156h8M272 -156h40M80 -164h40M240 -164h8M272 -164h72M80 -172h40M192 -172h8M280 -172h32M80 -180h40M144 -180h16M280 -180h32M80 -188h72M280 -188h32M80 -196h64M280 -196h32M80 -204h56M280 -204h32M80 -212h32M280 -212h40M320 -220h8M328 -228h32M360 -236h8M368 -244h32"/><path stroke="#ddebf2" d="M144 -52h8M136 -60h8M136 -68h8M240 -132h8M160 -140h8M240 -140h8M240 -148h8M120 -156h8M120 -164h8M216 -164h24M120 -172h8M144 -172h48M312 -172h32M120 -180h24M312 -180h16M344 -180h8M312 -188h8M312 -196h8M312 -204h8M320 -212h40M328 -220h40M360 -228h8M368 -236h32"/><path stroke="#dae9f2" d="M136 -52h8M232 -108h8M232 -116h8M176 -124h8M232 -124h8M168 -132h8M216 -156h24M128 -164h88M128 -172h16M328 -180h16M320 -188h80M320 -196h80M320 -204h80M360 -212h40M368 -220h32M368 -228h32"/><path stroke="#d7e8f1" d="M200 -108h8M224 -108h8M200 -116h8M224 -116h8M184 -124h16M224 -124h8M232 -132h8M168 -140h8M128 -156h88"/><path stroke="#d5e7f1" d="M208 -108h16M208 -116h16M200 -124h24M176 -132h56M176 -140h64M128 -148h112"/></g></g></g>
<g transform="translate(1389.3 325.2)"><g clip-path="url(#hc)"><g filter="url(#hb)" stroke-width="8"><path stroke="#f8bfa4" d="M184 4h8M184 -4h8"/><path stroke="#f9c4a9" d="M192 4h8M192 -4h8"/><path stroke="#facab1" d="M176 4h8M176 -4h8M184 -12h8"/><path stroke="#fbceb7" d="M200 4h8M200 -4h8M176 -12h8M192 -12h8"/><path stroke="#fcd3bc" d="M168 4h8M168 -4h8M168 -12h8"/><path stroke="#fcd7c2" d="M208 4h8M208 -4h8M200 -12h8"/><path stroke="#fdd9c4" d="M160 4h8M160 -4h8M160 -12h8M184 -20h16"/><path stroke="#fddcc9" d="M216 4h8M216 -4h8M176 -20h8"/><path stroke="#fcdecd" d="M208 -12h8M160 -20h16M200 -20h8"/><path stroke="#fce0d0" d="M152 4h8M152 -4h8M152 -12h8"/><path stroke="#fce2d2" d="M152 -20h8M192 -28h16"/><path stroke="#fbe4d6" d="M216 -12h8M208 -20h8M152 -28h8"/><path stroke="#fbe6da" d="M224 4h8M224 -4h8M184 -28h8M208 -28h8"/><path stroke="#fae8de" d="M144 4h8M144 -4h8M144 -12h8M144 -20h8M160 -28h8"/><path stroke="#fae9df" d="M224 -12h8M216 -20h8M144 -28h8M216 -28h8M200 -36h16"/><path stroke="#f9ebe3" d="M192 -36h8M128 -84h32M192 -84h32M280 -84h120M128 -92h56M280 -92h120M128 -100h48M280 -100h120M128 -108h40M280 -108h120M128 -116h24M280 -116h120M128 -124h16M280 -124h120M328 -132h72M328 -140h72M352 -148h48M360 -156h40M360 -164h40"/><path stroke="#f9eee7" d="M136 4h8M136 -4h8M136 -12h8M136 -20h8M224 -20h8M136 -28h8M224 -28h8M144 -36h16M216 -36h8M160 -84h8M184 -84h8M120 -92h8M184 -92h8M120 -100h8M176 -100h8M120 -108h8M168 -108h8M120 -116h8M120 -124h8M144 -124h8M320 -132h8M344 -148h8M352 -156h8"/><path stroke="#f9f0eb" d="M136 -36h8M224 -36h8M208 -44h16M128 -76h32M192 -76h32M280 -76h120M120 -84h8M168 -84h16M192 -92h8M152 -116h8M120 -132h16M328 -148h16M352 -164h8"/><path stroke="#f8f1ed" d="M128 4h8M232 4h32M128 -4h8M232 -4h32M128 -12h8M232 -12h32M128 -20h8M232 -20h32M128 -28h8M232 -28h32M80 -36h56M184 -36h8M80 -44h64M200 -44h8M72 -52h72M208 -52h16M72 -60h72M208 -60h16M-16 -68h176M192 -68h32M280 -68h120M-16 -76h144M160 -76h8M184 -76h8M-16 -84h136M224 -84h8M272 -84h8M-16 -92h136M272 -92h8M-16 -100h136M184 -100h8M-16 -108h136M176 -108h8M-16 -116h136M-16 -124h136M-16 -132h136M-16 -140h128M320 -140h8M-16 -148h88M-16 -156h88M-16 -164h88"/><path stroke="#f8f3f0" d="M120 4h8M264 4h8M120 -4h8M264 -4h8M120 -12h8M264 -12h8M120 -20h8M264 -20h8M80 -28h48M176 -28h8M264 -28h8M160 -36h8M232 -36h40M72 -44h8M144 -44h8M224 -44h8M64 -52h8M64 -60h8M144 -60h8M200 -60h8M224 -76h8M272 -76h8M200 -92h8M272 -100h8M272 -108h8M160 -116h8M152 -124h8M136 -132h8M312 -132h8M112 -140h16M72 -148h8M-16 -172h88"/><path stroke="#f7f5f4" d="M112 -20h8M168 -28h8M72 -36h8M64 -44h8M232 -44h32M144 -52h8M200 -52h8M224 -52h8M-16 -60h80M224 -60h8M280 -60h120M184 -68h8M224 -68h8M272 -68h8M208 -92h16M272 -116h8M272 -124h8M280 -132h32M80 -148h40M-16 -180h88"/><path stroke="#f6f7f7" d="M112 4h8M272 4h8M112 -4h8M272 -4h8M112 -12h8M272 -12h8M80 -20h32M272 -20h8M272 -28h8M272 -36h8M192 -44h8M264 -44h8M56 -52h8M232 -52h40M152 -60h8M192 -60h8M232 -60h48M160 -68h8M232 -68h40M168 -76h16M232 -76h16M264 -76h8M232 -84h8M224 -92h8M184 -108h8M128 -140h8M320 -148h8M344 -156h8M360 -172h40"/><path stroke="#f5f6f7" d="M104 -12h8M72 -28h8M64 -36h8M56 -44h8M152 -44h8M272 -44h8M-16 -52h72M272 -52h128M248 -76h16M240 -84h8M264 -84h8M192 -100h8M144 -132h8M120 -148h8M72 -156h8M-16 -188h88"/><path stroke="#f2f5f6" d="M280 4h40M280 -4h40M280 -12h48M280 -20h120M280 -28h120M280 -36h120M280 -44h120M248 -84h16M248 -92h24M264 -100h8M168 -116h8M160 -124h8M272 -132h8M328 -156h16M352 -172h8M-16 -196h88"/><path stroke="#eff3f5" d="M104 4h8M320 4h80M104 -4h8M320 -4h80M96 -12h8M328 -12h72M72 -20h8M64 -28h8M-16 -44h72M152 -52h8M192 -52h8M160 -60h8M184 -60h8M232 -92h16M248 -100h16M264 -108h8M152 -132h8M312 -140h8M128 -148h8M72 -164h8M208 -188h56M208 -196h56M-16 -204h88M160 -204h104M-16 -212h88M160 -212h104M-16 -220h88M160 -220h104M-16 -228h88M128 -228h136M-16 -236h88M128 -236h144M-16 -244h328M-16 -252h328M-16 -260h336M-16 -268h376M-16 -276h376M-16 -284h416M-16 -292h416M-16 -300h416M-16 -308h416M-16 -316h416M-16 -324h416"/><path stroke="#ecf2f5" d="M80 -12h16M56 -36h8M176 -36h8M160 -44h8M184 -44h8M176 -68h8M248 -108h16M176 -116h8M80 -156h40M320 -156h8M344 -164h8M72 -172h8M72 -180h8M240 -180h24M200 -188h8M264 -188h8M192 -196h16M264 -196h8M152 -204h8M264 -204h8M152 -212h8M264 -212h8M128 -220h32M264 -220h8M264 -228h8M72 -236h8M120 -236h8M272 -236h8M312 -244h8M312 -252h8M320 -260h40M360 -268h8M360 -276h40"/><path stroke="#eaf1f5" d="M168 -36h8M168 -68h8M200 -100h8M240 -100h8M192 -108h8M248 -116h24M136 -140h8M280 -140h32M120 -156h8M200 -180h40M264 -180h8M72 -188h8M160 -196h32M144 -212h8M72 -220h8M72 -228h8M120 -228h8M272 -228h8M80 -236h40M280 -236h40M320 -252h40M360 -260h8"/><path stroke="#e7f0f4" d="M72 -12h8M64 -20h8M56 -28h8M-16 -36h72M160 -52h8M184 -52h8M176 -60h8M184 -116h8M264 -124h8M160 -132h8M272 -140h8M248 -172h24M192 -188h8M72 -196h8M152 -196h8M72 -204h8M72 -212h8M136 -212h8M272 -212h8M120 -220h8M272 -220h8M80 -228h40M280 -228h32M320 -244h8M360 -252h8M368 -268h32"/><path stroke="#e4eef4" d="M-16 4h120M-16 -4h120M-16 -12h88M-16 -20h80M-16 -28h72M176 -44h8M168 -60h8M208 -100h32M248 -124h16M248 -132h24M248 -140h24M248 -148h16M312 -148h8M128 -156h8M248 -156h16M248 -164h16M216 -172h32M344 -172h8M192 -180h8M272 -180h8M152 -188h40M272 -188h8M272 -196h8M144 -204h8M272 -204h8M120 -212h16M112 -220h8M312 -228h8M320 -236h8M328 -244h32M368 -260h8"/><path stroke="#e1edf3" d="M168 -44h8M168 -52h16M240 -108h8M240 -116h8M168 -124h8M144 -140h8M264 -148h8M264 -156h8M312 -156h8M264 -164h8M200 -172h16M272 -172h8M160 -180h32M352 -180h48M144 -196h8M136 -204h8M112 -212h8M80 -220h32M280 -220h40M320 -228h8M328 -236h32M360 -244h8M368 -252h32M376 -260h24"/><path stroke="#e0ecf3" d="M192 -116h8M240 -124h8M152 -140h8M136 -148h8M272 -148h40M240 -156h8M272 -156h40M80 -164h40M240 -164h8M272 -164h72M80 -172h40M192 -172h8M280 -172h32M80 -180h40M144 -180h16M280 -180h32M80 -188h72M280 -188h32M80 -196h64M280 -196h32M80 -204h56M280 -204h32M80 -212h32M280 -212h40M320 -220h8M328 -228h32M360 -236h8M368 -244h32"/><path stroke="#ddebf2" d="M240 -132h8M160 -140h8M240 -140h8M240 -148h8M136 -156h8M120 -164h8M216 -164h24M120 -172h8M144 -172h48M312 -172h32M120 -180h24M312 -180h16M344 -180h8M312 -188h8M312 -196h8M312 -204h8M320 -212h40M328 -220h40M360 -228h8M368 -236h32"/><path stroke="#dae9f2" d="M232 -108h8M232 -116h8M176 -124h8M232 -124h8M168 -132h8M216 -156h24M128 -164h88M128 -172h16M328 -180h16M320 -188h80M320 -196h80M320 -204h80M360 -212h40M368 -220h32M368 -228h32"/><path stroke="#d7e8f1" d="M200 -108h8M224 -108h8M200 -116h8M224 -116h8M184 -124h16M224 -124h8M232 -132h8M168 -140h8M144 -156h72"/><path stroke="#d5e7f1" d="M208 -108h16M208 -116h16M200 -124h24M176 -132h56M176 -140h64M144 -148h96"/></g></g></g>
<g transform="translate(128.1 693.8)"><g clip-path="url(#hc)"><g filter="url(#hb)" stroke-width="8"><path stroke="#f8bb9e" d="M192 4h16M192 -4h16"/><path stroke="#f9c4a9" d="M184 4h8M208 4h8M184 -4h8M208 -4h8"/><path stroke="#fbceb7" d="M216 4h8M216 -4h8M192 -12h16"/><path stroke="#fcd7c2" d="M176 4h8M224 4h8M176 -4h8M224 -4h8M184 -12h8M208 -12h8"/><path stroke="#fddcc9" d="M232 4h8M232 -4h8M216 -12h8"/><path stroke="#fcdecd" d="M224 -12h8M192 -84h8"/><path stroke="#fce0d0" d="M168 4h8M168 -4h8M176 -12h8M232 -12h8M184 -20h16M184 -84h8M200 -84h8M184 -92h8"/><path stroke="#fce2d2" d="M184 -76h8M208 -84h8M176 -92h8M192 -92h8M184 -100h8"/><path stroke="#fbe4d6" d="M240 4h8M240 -4h8M200 -20h8M184 -28h8M192 -76h8M176 -84h8M128 -92h48M128 -100h56M128 -108h32M128 -116h24M128 -124h16M128 -132h8"/><path stroke="#fbe6da" d="M240 -12h8M232 -20h8M184 -68h8M176 -76h8M128 -84h48M216 -84h8M120 -92h8M120 -100h8M120 -108h8M160 -108h16M120 -116h8M152 -116h8M120 -124h8M144 -124h8M128 -140h8"/><path stroke="#fae8de" d="M160 4h8M160 -4h8M168 -12h8M176 -20h8M208 -20h8M224 -20h8M176 -28h8M128 -76h48M200 -76h8M120 -84h8M200 -92h8M176 -108h16M152 -124h8M120 -132h8M136 -132h8M120 -140h8"/><path stroke="#fae9df" d="M216 -20h8M240 -20h8M232 -28h8M176 -68h8M192 -68h8M120 -76h8M208 -76h8M112 -84h8M112 -92h8M112 -100h8M112 -108h8M112 -116h8M112 -124h8"/><path stroke="#f9ebe3" d="M248 4h8M248 -4h8M160 -12h8M248 -12h8M80 -68h96M80 -76h40M216 -76h8M-16 -84h56M80 -84h32M280 -84h120M-16 -92h56M80 -92h32M208 -92h8M280 -92h120M-16 -100h56M80 -100h32M192 -100h8M280 -100h120M-16 -108h56M80 -108h32M280 -108h120M-16 -116h56M80 -116h32M160 -116h8M280 -116h120M-16 -124h56M80 -124h32M280 -124h120M-16 -132h56M112 -132h8M144 -132h8M320 -132h80M-16 -140h56M328 -140h72M-16 -148h56M128 -148h8M352 -148h48M360 -156h40M360 -164h40"/><path stroke="#f9eee7" d="M152 4h8M152 -4h8M168 -20h8M248 -20h8M168 -28h8M192 -28h8M240 -28h8M168 -36h24M232 -36h8M80 -60h96M224 -84h8M40 -92h8M40 -100h8M40 -108h8M40 -116h8M40 -124h8M40 -132h8M80 -132h32M312 -132h8M40 -140h8M136 -140h8M320 -140h8M120 -148h8M344 -148h8M352 -156h8"/><path stroke="#f9f0eb" d="M256 4h8M256 -4h8M256 -12h8M256 -20h8M240 -36h8M72 -60h8M176 -60h8M72 -68h8M200 -68h8M-16 -76h56M72 -76h8M224 -76h8M280 -76h120M40 -84h8M72 -84h8M72 -92h8M216 -92h8M72 -100h8M72 -108h8M72 -116h8M72 -124h8M72 -132h8M80 -140h40M40 -148h8M328 -148h16M-16 -156h64M352 -164h8"/><path stroke="#f8f1ed" d="M264 4h48M264 -4h48M152 -12h8M264 -12h48M160 -20h8M264 -20h48M160 -28h8M248 -28h64M128 -36h40M280 -36h48M128 -44h48M232 -44h8M280 -44h48M56 -52h120M224 -52h16M280 -52h120M56 -60h16M184 -60h8M224 -60h16M280 -60h120M-16 -68h88M208 -68h24M280 -68h120M40 -76h32M48 -84h24M272 -84h8M48 -92h24M272 -92h8M48 -100h24M48 -108h24M48 -116h24M48 -124h24M48 -132h24M304 -132h8M48 -140h32M312 -140h8M48 -148h24M320 -148h8M48 -156h24M-16 -164h88M-16 -172h88M-16 -180h88"/><path stroke="#f8f3f0" d="M152 -20h8M312 -20h8M128 -28h32M312 -28h16M120 -36h8M248 -36h32M328 -36h8M80 -44h48M176 -44h8M240 -44h8M272 -44h8M328 -44h72M48 -52h8M216 -52h8M40 -60h16M216 -60h8M232 -68h8M232 -76h8M272 -76h8M272 -100h8M272 -108h8M160 -124h8M152 -132h8M296 -132h8M72 -148h8"/><path stroke="#f7f5f4" d="M144 4h8M312 4h8M144 -4h8M312 -4h8M144 -12h8M312 -12h8M144 -20h8M120 -28h8M224 -28h8M328 -28h8M80 -36h40M336 -36h64M72 -44h8M224 -44h8M248 -44h24M40 -52h8M176 -52h8M240 -52h8M272 -52h8M16 -60h24M192 -60h8M240 -60h8M272 -60h8M240 -68h8M272 -68h8M232 -84h8M224 -92h8M192 -108h8M168 -116h8M272 -116h8M272 -124h8M280 -132h16M144 -140h8M80 -148h40M136 -148h8M-16 -188h88"/><path stroke="#f6f7f7" d="M128 4h16M128 -4h16M128 -12h16M112 -20h32M320 -20h8M112 -28h8M336 -28h64M192 -36h8M224 -36h8M48 -44h24M24 -52h16M248 -52h24M208 -60h8M248 -60h24M248 -68h24M240 -76h8M264 -76h8M304 -140h8M312 -148h8M344 -156h8M360 -172h40"/><path stroke="#f5f6f7" d="M120 -12h8M320 -12h8M328 -20h16M104 -28h8M40 -44h8M216 -44h8M16 -52h8M8 -60h8M200 -60h8M248 -76h16M240 -84h8M264 -84h8M176 -116h16M72 -156h8M-16 -196h88"/><path stroke="#f2f5f6" d="M320 4h8M320 -4h8M344 -20h56M80 -28h24M72 -36h8M24 -44h16M184 -44h8M208 -52h8M-16 -60h24M248 -84h16M248 -92h24M200 -100h8M264 -100h8M272 -132h8M128 -156h8M328 -156h16M352 -172h8"/><path stroke="#eff3f5" d="M120 4h8M328 4h72M120 -4h8M328 -4h72M112 -12h8M328 -12h72M104 -20h8M16 -44h8M184 -52h8M232 -92h16M248 -100h16M264 -108h8M160 -132h8M120 -156h8M320 -156h8M72 -164h8M72 -172h8M72 -180h8M208 -188h56M208 -196h56M-16 -204h88M160 -204h104M-16 -212h88M160 -212h104M-16 -220h88M160 -220h104M-16 -228h88M128 -228h136M-16 -236h88M128 -236h144M-16 -244h328M-16 -252h328M-16 -260h336M-16 -268h376M-16 -276h376M-16 -284h416M-16 -292h416M-16 -300h416M-16 -308h416M-16 -316h416M-16 -324h416"/><path stroke="#ecf2f5" d="M200 -28h8M216 -28h8M8 -52h8M248 -108h16M296 -140h8M144 -148h8M304 -148h8M80 -156h40M344 -164h8M240 -180h24M72 -188h8M200 -188h8M264 -188h8M192 -196h16M264 -196h8M152 -204h8M264 -204h8M152 -212h8M264 -212h8M128 -220h32M264 -220h8M264 -228h8M72 -236h8M120 -236h8M272 -236h8M312 -244h8M312 -252h8M320 -260h40M360 -268h8M360 -276h40"/><path stroke="#eaf1f5" d="M104 -12h8M72 -28h8M208 -28h8M24 -36h48M216 -36h8M192 -44h8M208 -44h8M192 -52h16M208 -100h16M240 -100h8M192 -116h8M248 -116h24M152 -140h8M280 -140h16M136 -156h8M312 -156h8M200 -180h40M264 -180h8M72 -196h8M160 -196h32M144 -212h8M72 -220h8M72 -228h8M120 -228h8M272 -228h8M80 -236h40M280 -236h40M320 -252h40M360 -260h8"/><path stroke="#e7f0f4" d="M80 -20h24M16 -36h8M8 -44h8M-16 -52h24M224 -100h8M264 -124h8M272 -140h8M248 -172h24M192 -188h8M152 -196h8M72 -204h8M72 -212h8M136 -212h8M272 -212h8M120 -220h8M272 -220h8M80 -228h40M280 -228h32M320 -244h8M360 -252h8M368 -268h32"/><path stroke="#e4eef4" d="M-16 4h136M-16 -4h136M-16 -12h120M-16 -20h96M-16 -28h88M-16 -36h32M-16 -44h24M232 -100h8M168 -124h8M248 -124h16M248 -132h24M248 -140h24M248 -148h16M144 -156h8M248 -156h16M304 -156h8M248 -164h16M216 -172h32M344 -172h8M192 -180h8M272 -180h8M152 -188h40M272 -188h8M272 -196h8M144 -204h8M272 -204h8M120 -212h16M112 -220h8M312 -228h8M320 -236h8M328 -244h32M368 -260h8"/><path stroke="#e1edf3" d="M200 -36h16M200 -44h8M240 -108h8M240 -116h8M264 -148h8M296 -148h8M264 -156h8M264 -164h8M200 -172h16M272 -172h8M160 -180h32M352 -180h48M144 -196h8M136 -204h8M112 -212h8M80 -220h32M280 -220h40M320 -228h8M328 -236h32M360 -244h8M368 -252h32M376 -260h24"/><path stroke="#e0ecf3" d="M240 -124h8M160 -140h8M272 -148h24M240 -156h8M272 -156h32M80 -164h40M240 -164h8M272 -164h72M80 -172h40M192 -172h8M280 -172h32M80 -180h40M144 -180h16M280 -180h32M80 -188h72M280 -188h32M80 -196h64M280 -196h32M80 -204h56M280 -204h32M80 -212h32M280 -212h40M320 -220h8M328 -228h32M360 -236h8M368 -244h32"/><path stroke="#ddebf2" d="M200 -108h8M168 -132h8M240 -132h8M240 -140h8M152 -148h8M240 -148h8M152 -156h8M120 -164h8M216 -164h24M120 -172h8M144 -172h48M312 -172h32M120 -180h24M312 -180h16M344 -180h8M312 -188h8M312 -196h8M312 -204h8M320 -212h40M328 -220h40M360 -228h8M368 -236h32"/><path stroke="#dae9f2" d="M232 -108h8M232 -116h8M176 -124h16M232 -124h8M216 -156h24M128 -164h88M128 -172h16M328 -180h16M320 -188h80M320 -196h80M320 -204h80M360 -212h40M368 -220h32M368 -228h32"/><path stroke="#d7e8f1" d="M224 -108h8M200 -116h8M224 -116h8M192 -124h8M224 -124h8M232 -132h8M168 -140h8M160 -156h56"/><path stroke="#d5e7f1" d="M208 -108h16M208 -116h16M200 -124h24M176 -132h56M176 -140h64M160 -148h80"/></g></g></g>
<g transform="translate(548.6 693.8)"><g clip-path="url(#hc)"><g filter="url(#hb)" stroke-width="8"><path stroke="#f8bfa4" d="M232 4h8M232 -4h8"/><path stroke="#fac8af" d="M224 4h8M240 4h8M224 -4h8M240 -4h8"/><path stroke="#fcd3bc" d="M216 4h8M248 4h8M216 -4h8M248 -4h8"/><path stroke="#fdd9c4" d="M208 4h8M256 4h8M208 -4h8M256 -4h8"/><path stroke="#fcdecd" d="M200 4h8M264 4h8M200 -4h8M264 -4h8M192 -84h16"/><path stroke="#fce0d0" d="M192 -76h16M184 -84h8M184 -92h8"/><path stroke="#fce2d2" d="M248 -12h8M184 -76h8M208 -84h8M176 -92h8M192 -92h8M184 -100h8"/><path stroke="#fbe4d6" d="M192 -68h16M176 -84h8M128 -92h48M128 -100h56M128 -108h32M128 -116h24M128 -124h16M128 -132h8"/><path stroke="#fbe6da" d="M192 4h8M192 -4h8M200 -12h8M256 -12h8M184 -68h8M176 -76h8M208 -76h8M128 -84h48M216 -84h8M120 -92h8M120 -100h8M120 -108h8M160 -108h16M120 -116h8M152 -116h8M120 -124h8M144 -124h8M128 -140h8"/><path stroke="#fae8de" d="M240 -12h8M128 -76h48M120 -84h8M200 -92h8M176 -108h16M152 -124h8M120 -132h8M136 -132h8M120 -140h8"/><path stroke="#fae9df" d="M272 4h8M272 -4h8M208 -12h8M264 -12h8M184 -60h24M176 -68h8M208 -68h8M120 -76h8M112 -84h8M112 -92h8M112 -100h8M112 -108h8M112 -116h8M112 -124h8"/><path stroke="#f9ebe3" d="M192 -12h8M80 -68h96M80 -76h40M216 -76h8M-16 -84h56M80 -84h32M280 -84h120M-16 -92h56M80 -92h32M208 -92h8M280 -92h120M-16 -100h56M80 -100h32M192 -100h8M280 -100h120M-16 -108h56M80 -108h32M280 -108h120M-16 -116h56M80 -116h32M160 -116h8M280 -116h120M-16 -124h56M80 -124h32M280 -124h120M-16 -132h56M112 -132h8M144 -132h8M320 -132h80M-16 -140h56M328 -140h72M-16 -148h56M128 -148h8M352 -148h48M360 -156h40M360 -164h40"/><path stroke="#f9eee7" d="M184 4h8M184 -4h8M272 -12h8M200 -20h8M248 -20h8M80 -60h104M208 -60h8M224 -84h8M40 -92h8M40 -100h8M40 -108h8M40 -116h8M40 -124h8M40 -132h8M80 -132h32M312 -132h8M40 -140h8M136 -140h8M320 -140h8M120 -148h8M344 -148h8M352 -156h8"/><path stroke="#f9f0eb" d="M216 -12h24M192 -20h8M256 -20h8M184 -52h24M72 -60h8M72 -68h8M-16 -76h56M72 -76h8M224 -76h8M280 -76h120M40 -84h8M72 -84h8M72 -92h8M216 -92h8M72 -100h8M72 -108h8M72 -116h8M72 -124h8M72 -132h8M80 -140h40M40 -148h8M328 -148h16M-16 -156h64M352 -164h8"/><path stroke="#f8f1ed" d="M280 4h32M280 -4h32M184 -12h8M280 -12h32M264 -20h48M192 -28h16M248 -28h64M144 -36h64M280 -36h48M144 -44h64M280 -44h48M56 -52h128M208 -52h32M280 -52h120M56 -60h16M216 -60h24M280 -60h120M-16 -68h88M216 -68h16M280 -68h120M40 -76h32M48 -84h24M272 -84h8M48 -92h24M272 -92h8M48 -100h24M48 -108h24M48 -116h24M48 -124h24M48 -132h24M304 -132h8M48 -140h32M312 -140h8M48 -148h24M320 -148h8M48 -156h24M-16 -164h88M-16 -172h88M-16 -180h88"/><path stroke="#f8f3f0" d="M176 4h8M176 -4h8M184 -20h8M312 -20h8M160 -28h32M312 -28h16M136 -36h8M248 -36h32M328 -36h8M96 -44h48M208 -44h8M272 -44h8M328 -44h72M48 -52h8M40 -60h16M232 -68h8M232 -76h8M272 -76h8M272 -100h8M272 -108h8M160 -124h8M152 -132h8M296 -132h8M72 -148h8"/><path stroke="#f7f5f4" d="M312 4h8M312 -4h8M176 -12h8M312 -12h8M176 -20h8M144 -28h16M328 -28h8M96 -36h40M336 -36h64M88 -44h8M248 -44h24M40 -52h8M240 -52h8M272 -52h8M32 -60h8M240 -60h8M272 -60h8M240 -68h8M272 -68h8M232 -84h8M224 -92h8M192 -108h8M168 -116h8M272 -116h8M272 -124h8M280 -132h16M144 -140h8M80 -148h40M136 -148h8M-16 -188h88"/><path stroke="#f6f7f7" d="M160 4h16M160 -4h16M160 -12h16M160 -20h16M208 -20h8M320 -20h8M136 -28h8M336 -28h64M208 -36h8M48 -44h40M216 -44h16M240 -44h8M32 -52h8M248 -52h24M248 -60h24M248 -68h24M240 -76h8M264 -76h8M304 -140h8M312 -148h8M344 -156h8M360 -172h40"/><path stroke="#f5f6f7" d="M320 -12h8M152 -20h8M328 -20h16M128 -28h8M208 -28h8M40 -44h8M232 -44h8M24 -60h8M248 -76h16M240 -84h8M264 -84h8M176 -116h16M72 -156h8M-16 -196h88"/><path stroke="#f2f5f6" d="M152 4h8M320 4h8M152 -4h8M320 -4h8M152 -12h8M344 -20h56M96 -28h32M88 -36h8M240 -36h8M-16 -60h40M248 -84h16M248 -92h24M200 -100h8M264 -100h8M272 -132h8M128 -156h8M328 -156h16M352 -172h8"/><path stroke="#eff3f5" d="M328 4h72M328 -4h72M328 -12h72M240 -20h8M240 -28h8M32 -44h8M232 -92h16M248 -100h16M264 -108h8M160 -132h8M120 -156h8M320 -156h8M72 -164h8M72 -172h8M72 -180h8M208 -188h56M208 -196h56M-16 -204h88M160 -204h104M-16 -212h88M160 -212h104M-16 -220h88M160 -220h104M-16 -228h88M128 -228h136M-16 -236h88M128 -236h144M-16 -244h328M-16 -252h328M-16 -260h336M-16 -268h376M-16 -276h376M-16 -284h416M-16 -292h416M-16 -300h416M-16 -308h416M-16 -316h416M-16 -324h416"/><path stroke="#ecf2f5" d="M144 -20h8M88 -28h8M216 -36h8M24 -52h8M248 -108h16M296 -140h8M144 -148h8M304 -148h8M80 -156h40M344 -164h8M240 -180h24M72 -188h8M200 -188h8M264 -188h8M192 -196h16M264 -196h8M152 -204h8M264 -204h8M152 -212h8M264 -212h8M128 -220h32M264 -220h8M264 -228h8M72 -236h8M120 -236h8M272 -236h8M312 -244h8M312 -252h8M320 -260h40M360 -268h8M360 -276h40"/><path stroke="#eaf1f5" d="M40 -36h48M224 -36h8M208 -100h16M240 -100h8M192 -116h8M248 -116h24M152 -140h8M280 -140h16M136 -156h8M312 -156h8M200 -180h40M264 -180h8M72 -196h8M160 -196h32M144 -212h8M72 -220h8M72 -228h8M120 -228h8M272 -228h8M80 -236h40M280 -236h40M320 -252h40M360 -260h8"/><path stroke="#e7f0f4" d="M144 4h8M144 -4h8M144 -12h8M96 -20h48M32 -36h8M232 -36h8M24 -44h8M-16 -52h40M224 -100h8M264 -124h8M272 -140h8M248 -172h24M192 -188h8M152 -196h8M72 -204h8M72 -212h8M136 -212h8M272 -212h8M120 -220h8M272 -220h8M80 -228h40M280 -228h32M320 -244h8M360 -252h8M368 -268h32"/><path stroke="#e4eef4" d="M-16 4h160M-16 -4h160M-16 -12h160M-16 -20h112M-16 -28h104M216 -28h8M-16 -36h48M-16 -44h40M232 -100h8M168 -124h8M248 -124h16M248 -132h24M248 -140h24M248 -148h16M144 -156h8M248 -156h16M304 -156h8M248 -164h16M216 -172h32M344 -172h8M192 -180h8M272 -180h8M152 -188h40M272 -188h8M272 -196h8M144 -204h8M272 -204h8M120 -212h16M112 -220h8M312 -228h8M320 -236h8M328 -244h32M368 -260h8"/><path stroke="#e1edf3" d="M216 -20h8M240 -108h8M240 -116h8M264 -148h8M296 -148h8M264 -156h8M264 -164h8M200 -172h16M272 -172h8M160 -180h32M352 -180h48M144 -196h8M136 -204h8M112 -212h8M80 -220h32M280 -220h40M320 -228h8M328 -236h32M360 -244h8M368 -252h32M376 -260h24"/><path stroke="#e0ecf3" d="M224 -28h8M240 -124h8M160 -140h8M272 -148h24M240 -156h8M272 -156h32M80 -164h40M240 -164h8M272 -164h72M80 -172h40M192 -172h8M280 -172h32M80 -180h40M144 -180h16M280 -180h32M80 -188h72M280 -188h32M80 -196h64M280 -196h32M80 -204h56M280 -204h32M80 -212h32M280 -212h40M320 -220h8M328 -228h32M360 -236h8M368 -244h32"/><path stroke="#ddebf2" d="M224 -20h8M232 -28h8M200 -108h8M168 -132h8M240 -132h8M240 -140h8M152 -148h8M240 -148h8M152 -156h8M120 -164h8M216 -164h24M120 -172h8M144 -172h48M312 -172h32M120 -180h24M312 -180h16M344 -180h8M312 -188h8M312 -196h8M312 -204h8M320 -212h40M328 -220h40M360 -228h8M368 -236h32"/><path stroke="#dae9f2" d="M232 -20h8M232 -108h8M232 -116h8M176 -124h16M232 -124h8M216 -156h24M128 -164h88M128 -172h16M328 -180h16M320 -188h80M320 -196h80M320 -204h80M360 -212h40M368 -220h32M368 -228h32"/><path stroke="#d7e8f1" d="M224 -108h8M200 -116h8M224 -116h8M192 -124h8M224 -124h8M232 -132h8M168 -140h8M160 -156h56"/><path stroke="#d5e7f1" d="M208 -108h16M208 -116h16M200 -124h24M176 -132h56M176 -140h64M160 -148h80"/></g></g></g>
<g transform="translate(969.0 693.8)"><g clip-path="url(#hc)"><g filter="url(#hb)" stroke-width="8"><path stroke="#f8bfa4" d="M248 4h8M248 -4h8"/><path stroke="#fac8af" d="M240 4h8M256 4h8M240 -4h8M256 -4h8"/><path stroke="#fbceb7" d="M248 -12h8"/><path stroke="#fcd3bc" d="M232 4h8M264 4h8M232 -4h8M264 -4h8M240 -12h8M256 -12h8"/><path stroke="#fdd9c4" d="M224 4h8M224 -4h8M224 -12h16M264 -12h8"/><path stroke="#fddcc9" d="M160 -92h32M160 -100h32M152 -124h8"/><path stroke="#fcdecd" d="M216 4h8M216 -4h8M216 -12h8M160 -84h48M152 -92h8M152 -100h8M152 -108h16M152 -116h8M144 -124h8"/><path stroke="#fce0d0" d="M216 -20h24M264 -20h8M160 -76h48M152 -84h8M168 -108h24M144 -116h8M136 -124h8"/><path stroke="#fce2d2" d="M240 -20h8M256 -20h8M152 -76h8M144 -84h8M208 -84h8M144 -92h8M192 -92h8M144 -100h8M144 -108h8M136 -116h8M160 -116h8M128 -124h8"/><path stroke="#fbe4d6" d="M128 -68h80M128 -76h24M128 -84h16M128 -92h16M128 -100h16M128 -108h16M128 -116h8M128 -132h16"/><path stroke="#fbe6da" d="M272 4h8M272 -4h8M248 -20h8M120 -68h8M120 -76h8M208 -76h8M120 -84h8M216 -84h8M120 -92h8M120 -100h8M120 -108h8M120 -116h8M120 -124h8M144 -132h8M128 -140h8"/><path stroke="#fae8de" d="M272 -12h8M224 -28h16M264 -28h8M200 -92h8M192 -100h8M160 -124h8M120 -132h8M120 -140h8"/><path stroke="#fae9df" d="M208 4h8M208 -4h8M208 -12h8M272 -20h8M216 -28h8M128 -60h80M112 -68h8M208 -68h8M112 -76h8M112 -84h8M112 -92h8M112 -100h8M112 -108h8M112 -116h8M112 -124h8"/><path stroke="#f9ebe3" d="M208 -20h8M120 -60h8M80 -68h32M80 -76h32M216 -76h8M-16 -84h56M80 -84h32M280 -84h120M-16 -92h56M80 -92h32M208 -92h8M280 -92h120M-16 -100h56M80 -100h32M280 -100h120M-16 -108h56M80 -108h32M280 -108h120M-16 -116h56M80 -116h32M280 -116h120M-16 -124h56M80 -124h32M280 -124h120M-16 -132h56M112 -132h8M152 -132h8M320 -132h80M-16 -140h56M136 -140h8M328 -140h72M-16 -148h56M128 -148h8M352 -148h48M360 -156h40M360 -164h40"/><path stroke="#f9eee7" d="M208 -28h8M272 -28h8M216 -36h8M80 -60h40M208 -60h8M224 -84h8M40 -92h8M40 -100h8M40 -108h8M40 -116h8M40 -124h8M40 -132h8M80 -132h32M312 -132h8M40 -140h8M320 -140h8M120 -148h8M344 -148h8M352 -156h8"/><path stroke="#f9f0eb" d="M208 -36h8M224 -36h8M264 -36h8M120 -52h88M72 -60h8M72 -68h8M-16 -76h56M72 -76h8M224 -76h8M280 -76h120M40 -84h8M72 -84h8M72 -92h8M216 -92h8M72 -100h8M72 -108h8M72 -116h8M168 -116h8M72 -124h8M72 -132h8M80 -140h40M40 -148h8M328 -148h16M-16 -156h64M352 -164h8"/><path stroke="#f8f1ed" d="M280 4h32M280 -4h32M280 -12h32M192 -20h16M280 -20h32M192 -28h16M280 -28h32M176 -36h32M272 -36h56M176 -44h48M280 -44h48M72 -52h48M208 -52h16M280 -52h120M216 -60h8M280 -60h120M-16 -68h88M216 -68h16M280 -68h120M40 -76h32M48 -84h24M272 -84h8M48 -92h24M272 -92h8M48 -100h24M48 -108h24M192 -108h8M48 -116h24M48 -124h24M48 -132h24M304 -132h8M48 -140h32M312 -140h8M48 -148h24M320 -148h8M48 -156h24M-16 -164h88M-16 -172h88M-16 -180h88"/><path stroke="#f8f3f0" d="M200 4h8M200 -4h8M192 -12h16M184 -20h8M312 -20h8M168 -28h24M240 -28h8M256 -28h8M312 -28h16M168 -36h8M232 -36h8M328 -36h8M128 -44h48M264 -44h16M328 -44h72M64 -52h8M56 -60h16M232 -68h8M232 -76h8M272 -76h8M272 -100h8M272 -108h8M296 -132h8M144 -140h8M72 -148h8"/><path stroke="#f7f5f4" d="M192 4h8M312 4h8M192 -4h8M312 -4h8M184 -12h8M312 -12h8M176 -20h8M328 -28h8M128 -36h40M336 -36h64M120 -44h8M56 -52h8M272 -52h8M32 -60h24M224 -60h8M272 -60h8M272 -68h8M232 -84h8M224 -92h8M176 -116h16M272 -116h8M272 -124h8M160 -132h8M280 -132h16M80 -148h40M136 -148h8M-16 -188h88"/><path stroke="#f6f7f7" d="M176 4h16M176 -4h16M176 -12h8M160 -20h16M320 -20h8M152 -28h16M336 -28h64M64 -44h56M224 -44h8M40 -52h16M264 -52h8M264 -60h8M264 -68h8M264 -76h8M304 -140h8M312 -148h8M344 -156h8M360 -172h40"/><path stroke="#f5f6f7" d="M168 -12h8M320 -12h8M328 -20h16M144 -28h8M120 -36h8M56 -44h8M32 -52h8M224 -52h8M24 -60h8M232 -60h8M240 -84h8M264 -84h8M72 -156h8M-16 -196h88"/><path stroke="#f2f5f6" d="M168 4h8M320 4h8M168 -4h8M320 -4h8M152 -20h8M344 -20h56M128 -28h16M256 -36h8M40 -44h16M-16 -60h40M240 -68h8M240 -76h8M256 -84h8M248 -92h24M200 -100h8M264 -100h8M272 -132h8M128 -156h8M328 -156h16M352 -172h8"/><path stroke="#eff3f5" d="M328 4h72M328 -4h72M160 -12h8M328 -12h72M240 -36h8M32 -44h8M256 -44h8M256 -68h8M256 -76h8M248 -84h8M232 -92h16M248 -100h16M264 -108h8M152 -140h8M120 -156h8M320 -156h8M72 -164h8M72 -172h8M72 -180h8M208 -188h56M208 -196h56M-16 -204h88M160 -204h104M-16 -212h88M160 -212h104M-16 -220h88M160 -220h104M-16 -228h88M128 -228h136M-16 -236h88M128 -236h144M-16 -244h328M-16 -252h328M-16 -260h336M-16 -268h376M-16 -276h376M-16 -284h416M-16 -292h416M-16 -300h416M-16 -308h416M-16 -316h416M-16 -324h416"/><path stroke="#ecf2f5" d="M120 -28h8M248 -28h8M112 -36h8M232 -44h8M256 -52h8M256 -60h8M248 -108h16M192 -116h8M296 -140h8M144 -148h8M304 -148h8M80 -156h40M344 -164h8M240 -180h24M72 -188h8M200 -188h8M264 -188h8M192 -196h16M264 -196h8M152 -204h8M264 -204h8M152 -212h8M264 -212h8M128 -220h32M264 -220h8M264 -228h8M72 -236h8M120 -236h8M272 -236h8M312 -244h8M312 -252h8M320 -260h40M360 -268h8M360 -276h40"/><path stroke="#eaf1f5" d="M152 -12h8M144 -20h8M40 -36h72M24 -52h8M232 -52h8M240 -60h8M248 -76h8M208 -100h16M240 -100h8M248 -116h24M168 -124h8M280 -140h16M136 -156h8M312 -156h8M200 -180h40M264 -180h8M72 -196h8M160 -196h32M144 -212h8M72 -220h8M72 -228h8M120 -228h8M272 -228h8M80 -236h40M280 -236h40M320 -252h40M360 -260h8"/><path stroke="#e7f0f4" d="M160 4h8M160 -4h8M128 -20h16M32 -36h8M224 -100h8M264 -124h8M272 -140h8M248 -172h24M192 -188h8M152 -196h8M72 -204h8M72 -212h8M136 -212h8M272 -212h8M120 -220h8M272 -220h8M80 -228h40M280 -228h32M320 -244h8M360 -252h8M368 -268h32"/><path stroke="#e4eef4" d="M-16 4h176M-16 -4h176M-16 -12h168M-16 -20h144M-16 -28h136M24 -36h8M24 -44h8M240 -44h8M-16 -52h40M240 -52h8M248 -68h8M232 -100h8M248 -124h16M248 -132h24M248 -140h24M248 -148h16M144 -156h8M248 -156h16M304 -156h8M248 -164h16M216 -172h32M344 -172h8M192 -180h8M272 -180h8M152 -188h40M272 -188h8M272 -196h8M144 -204h8M272 -204h8M120 -212h16M112 -220h8M312 -228h8M320 -236h8M328 -244h32M368 -260h8"/><path stroke="#e1edf3" d="M-16 -36h40M248 -60h8M240 -108h8M240 -116h8M160 -140h8M264 -148h8M296 -148h8M264 -156h8M264 -164h8M200 -172h16M272 -172h8M160 -180h32M352 -180h48M144 -196h8M136 -204h8M112 -212h8M80 -220h32M280 -220h40M320 -228h8M328 -236h32M360 -244h8M368 -252h32M376 -260h24"/><path stroke="#e0ecf3" d="M248 -36h8M-16 -44h40M248 -44h8M248 -52h8M240 -124h8M168 -132h8M272 -148h24M240 -156h8M272 -156h32M80 -164h40M240 -164h8M272 -164h72M80 -172h40M192 -172h8M280 -172h32M80 -180h40M144 -180h16M280 -180h32M80 -188h72M280 -188h32M80 -196h64M280 -196h32M80 -204h56M280 -204h32M80 -212h32M280 -212h40M320 -220h8M328 -228h32M360 -236h8M368 -244h32"/><path stroke="#ddebf2" d="M200 -108h8M176 -124h16M240 -132h8M240 -140h8M152 -148h8M240 -148h8M152 -156h8M120 -164h8M216 -164h24M120 -172h8M144 -172h48M312 -172h32M120 -180h24M312 -180h16M344 -180h8M312 -188h8M312 -196h8M312 -204h8M320 -212h40M328 -220h40M360 -228h8M368 -236h32"/><path stroke="#dae9f2" d="M232 -108h8M200 -116h8M232 -116h8M192 -124h8M232 -124h8M168 -140h8M216 -156h24M128 -164h88M128 -172h16M328 -180h16M320 -188h80M320 -196h80M320 -204h80M360 -212h40M368 -220h32M368 -228h32"/><path stroke="#d7e8f1" d="M224 -108h8M224 -116h8M224 -124h8M232 -132h8M160 -156h56"/><path stroke="#d5e7f1" d="M208 -108h16M208 -116h16M200 -124h24M176 -132h56M176 -140h64M160 -148h80"/></g></g></g>
<g transform="translate(1389.3 693.8)"><g clip-path="url(#hc)"><g filter="url(#hb)" stroke-width="8"><path stroke="#f8bfa4" d="M280 4h8M280 -4h8"/><path stroke="#fac8af" d="M272 4h8M272 -4h8"/><path stroke="#facab1" d="M288 4h8M288 -4h8"/><path stroke="#fbceb7" d="M264 4h8M264 -4h8"/><path stroke="#fcd3bc" d="M296 4h8M296 -4h8"/><path stroke="#fcd7c2" d="M256 4h8M256 -4h8"/><path stroke="#fdd9c4" d="M304 4h8M304 -4h8M264 -12h8M296 -12h8"/><path stroke="#fddcc9" d="M248 4h8M248 -4h8M256 -12h8M160 -92h32M160 -100h32M144 -108h16M144 -116h16M144 -124h16"/><path stroke="#fcdecd" d="M304 -12h8M160 -84h56M152 -92h8M144 -100h16M136 -108h8M160 -108h8M136 -116h8M136 -124h8"/><path stroke="#fce0d0" d="M248 -12h8M288 -12h8M296 -20h8M160 -76h48M152 -84h8M216 -84h8M136 -100h8M168 -108h24"/><path stroke="#fce2d2" d="M312 4h8M312 -4h8M152 -76h8M144 -84h8M136 -92h16M192 -92h8M128 -108h8M128 -116h8M160 -116h8M128 -124h8"/><path stroke="#fbe4d6" d="M272 -12h8M312 -12h8M256 -20h8M304 -20h8M128 -68h80M128 -76h24M208 -76h8M128 -84h16M128 -92h8M128 -100h8M128 -132h16"/><path stroke="#fbe6da" d="M248 -20h8M264 -20h8M120 -68h8M120 -76h8M120 -84h8M120 -92h8M120 -100h8M120 -108h8M120 -116h8M120 -124h8M144 -132h8M128 -140h8"/><path stroke="#fae8de" d="M240 4h8M240 -4h8M280 -12h8M216 -76h8M200 -92h8M192 -100h8M160 -124h8M120 -132h8M120 -140h8"/><path stroke="#fae9df" d="M240 -12h8M312 -20h8M248 -28h8M296 -28h8M128 -60h80M112 -68h8M208 -68h8M112 -76h8M112 -84h8M224 -84h8M112 -92h8M208 -92h16M112 -100h8M112 -108h8M112 -116h8M112 -124h8"/><path stroke="#f9ebe3" d="M320 4h8M320 -4h8M240 -20h8M120 -60h8M80 -68h32M344 -68h56M80 -76h32M352 -76h48M-16 -84h56M80 -84h32M352 -84h48M-16 -92h56M80 -92h32M352 -92h48M-16 -100h56M80 -100h32M352 -100h48M-16 -108h56M80 -108h32M352 -108h48M-16 -116h56M80 -116h32M352 -116h48M-16 -124h56M80 -124h32M312 -124h88M-16 -132h56M112 -132h8M152 -132h8M320 -132h80M-16 -140h56M136 -140h8M328 -140h72M-16 -148h56M128 -148h8M352 -148h48M360 -156h40M360 -164h40"/><path stroke="#f9eee7" d="M320 -12h8M288 -20h8M240 -28h8M304 -28h8M248 -36h8M80 -60h40M208 -60h8M344 -60h56M336 -68h8M224 -76h8M344 -76h8M40 -92h8M40 -100h8M40 -108h8M40 -116h8M344 -116h8M40 -124h8M40 -132h8M80 -132h32M312 -132h8M40 -140h8M320 -140h8M120 -148h8M344 -148h8M352 -156h8"/><path stroke="#f9f0eb" d="M320 -20h8M312 -28h8M240 -36h8M120 -52h88M336 -60h8M72 -68h8M-16 -76h56M72 -76h8M336 -76h8M40 -84h8M72 -84h8M344 -84h8M72 -92h8M344 -92h8M72 -100h8M344 -100h8M72 -108h8M344 -108h8M72 -116h8M168 -116h8M336 -116h8M72 -124h8M304 -124h8M72 -132h8M80 -140h40M40 -148h8M328 -148h16M-16 -156h64M352 -164h8"/><path stroke="#f8f1ed" d="M320 -28h8M224 -36h16M312 -36h16M224 -44h32M312 -44h16M80 -52h40M208 -52h40M312 -52h88M72 -60h8M216 -60h32M312 -60h24M-16 -68h88M216 -68h16M328 -68h8M40 -76h32M48 -84h24M336 -84h8M48 -92h24M224 -92h8M48 -100h24M48 -108h24M192 -108h8M48 -116h24M312 -116h24M48 -124h24M48 -132h24M48 -140h32M312 -140h8M48 -148h24M320 -148h8M48 -156h24M-16 -164h88M-16 -172h88M-16 -180h88"/><path stroke="#f8f3f0" d="M232 4h8M232 -4h8M232 -12h8M232 -20h8M328 -20h8M216 -28h24M256 -28h8M288 -28h8M328 -28h8M216 -36h8M296 -36h16M328 -36h8M144 -44h80M328 -44h72M72 -52h8M248 -52h8M248 -60h8M232 -68h24M312 -68h16M232 -76h8M328 -76h8M336 -92h8M336 -100h8M336 -108h8M304 -116h8M304 -132h8M144 -140h8M72 -148h8"/><path stroke="#f7f5f4" d="M224 4h8M328 4h8M224 -4h8M328 -4h8M224 -12h8M328 -12h8M224 -20h8M336 -20h8M208 -28h8M336 -28h8M144 -36h72M336 -36h64M136 -44h8M48 -60h24M240 -76h16M312 -76h16M232 -84h8M328 -84h8M328 -92h8M328 -100h8M328 -108h8M176 -116h16M296 -124h8M160 -132h8M80 -148h40M136 -148h8M-16 -188h88"/><path stroke="#f6f7f7" d="M192 4h32M192 -4h32M192 -12h32M176 -20h48M344 -20h56M168 -28h40M344 -28h56M80 -44h56M304 -44h8M48 -52h24M240 -84h8M312 -84h16M312 -92h16M312 -100h16M296 -108h32M296 -116h8M312 -148h8M344 -156h8M360 -172h40"/><path stroke="#f5f6f7" d="M184 4h8M184 -4h8M184 -12h8M336 -12h8M168 -20h8M272 -20h8M160 -28h8M136 -36h8M72 -44h8M304 -52h8M40 -60h8M304 -60h8M304 -68h8M304 -76h8M248 -84h8M304 -100h8M304 -140h8M72 -156h8M-16 -196h88"/><path stroke="#f2f5f6" d="M336 4h8M336 -4h8M176 -12h8M344 -12h56M144 -28h16M256 -36h8M288 -36h8M56 -44h16M256 -44h8M-16 -60h56M304 -84h8M232 -92h8M248 -92h8M304 -92h8M200 -100h8M296 -100h8M296 -132h8M128 -156h8M328 -156h16M352 -172h8"/><path stroke="#eff3f5" d="M344 4h56M344 -4h56M264 -28h8M48 -44h8M296 -44h8M256 -52h8M256 -60h8M256 -68h8M240 -92h8M248 -100h8M288 -108h8M288 -116h8M288 -124h8M152 -140h8M120 -156h8M320 -156h8M72 -164h8M72 -172h8M72 -180h8M208 -188h56M208 -196h56M-16 -204h88M160 -204h104M-16 -212h88M160 -212h104M-16 -220h88M160 -220h104M-16 -228h88M128 -228h136M-16 -236h88M128 -236h144M-16 -244h328M-16 -252h328M-16 -260h336M-16 -268h376M-16 -276h376M-16 -284h416M-16 -292h416M-16 -300h416M-16 -308h416M-16 -316h416M-16 -324h416"/><path stroke="#ecf2f5" d="M168 -12h8M136 -28h8M128 -36h8M40 -52h8M256 -76h8M208 -100h16M248 -108h8M192 -116h8M144 -148h8M304 -148h8M80 -156h40M344 -164h8M240 -180h24M72 -188h8M200 -188h8M264 -188h8M192 -196h16M264 -196h8M152 -204h8M264 -204h8M152 -212h8M264 -212h8M128 -220h32M264 -220h8M264 -228h8M72 -236h8M120 -236h8M272 -236h8M312 -244h8M312 -252h8M320 -260h40M360 -268h8M360 -276h40"/><path stroke="#eaf1f5" d="M176 4h8M176 -4h8M160 -20h8M56 -36h72M256 -84h8M296 -92h8M240 -100h8M288 -100h8M248 -116h8M168 -124h8M288 -132h8M296 -140h8M136 -156h8M312 -156h8M200 -180h40M264 -180h8M72 -196h8M160 -196h32M144 -212h8M72 -220h8M72 -228h8M120 -228h8M272 -228h8M80 -236h40M280 -236h40M320 -252h40M360 -260h8"/><path stroke="#e7f0f4" d="M144 -20h16M280 -20h8M272 -28h8M48 -36h8M40 -44h8M288 -44h8M296 -52h8M296 -60h8M296 -68h8M296 -76h8M296 -84h8M256 -92h8M224 -100h8M256 -100h8M248 -172h24M192 -188h8M152 -196h8M72 -204h8M72 -212h8M136 -212h8M272 -212h8M120 -220h8M272 -220h8M80 -228h40M280 -228h32M320 -244h8M360 -252h8M368 -268h32"/><path stroke="#e4eef4" d="M-16 4h192M-16 -4h192M-16 -12h184M-16 -20h160M-16 -28h152M280 -28h8M40 -36h8M-16 -52h56M288 -92h8M232 -100h8M256 -108h8M248 -124h8M248 -148h16M144 -156h8M248 -156h16M304 -156h8M248 -164h16M216 -172h32M344 -172h8M192 -180h8M272 -180h8M152 -188h40M272 -188h8M272 -196h8M144 -204h8M272 -204h8M120 -212h16M112 -220h8M312 -228h8M320 -236h8M328 -244h32M368 -260h8"/><path stroke="#e1edf3" d="M-16 -36h56M264 -36h8M280 -36h8M264 -44h8M264 -52h8M288 -52h8M264 -60h8M288 -60h8M264 -68h8M288 -68h8M264 -76h8M288 -76h8M288 -84h8M240 -108h8M280 -108h8M240 -116h8M256 -116h8M280 -116h8M256 -124h8M280 -124h8M248 -132h16M160 -140h8M248 -140h24M288 -140h8M264 -148h8M296 -148h8M264 -156h8M264 -164h8M200 -172h16M272 -172h8M160 -180h32M352 -180h48M144 -196h8M136 -204h8M112 -212h8M80 -220h32M280 -220h40M320 -228h8M328 -236h32M360 -244h8M368 -252h32M376 -260h24"/><path stroke="#e0ecf3" d="M272 -36h8M-16 -44h56M272 -44h16M272 -52h16M272 -60h16M272 -68h16M272 -76h16M264 -84h24M264 -92h24M264 -100h24M264 -108h16M264 -116h16M240 -124h8M264 -124h16M168 -132h8M264 -132h24M272 -140h16M272 -148h24M240 -156h8M272 -156h32M80 -164h40M240 -164h8M272 -164h72M80 -172h40M192 -172h8M280 -172h32M80 -180h40M144 -180h16M280 -180h32M80 -188h72M280 -188h32M80 -196h64M280 -196h32M80 -204h56M280 -204h32M80 -212h32M280 -212h40M320 -220h8M328 -228h32M360 -236h8M368 -244h32"/><path stroke="#ddebf2" d="M200 -108h8M176 -124h16M240 -132h8M240 -140h8M152 -148h8M240 -148h8M152 -156h8M120 -164h8M216 -164h24M120 -172h8M144 -172h48M312 -172h32M120 -180h24M312 -180h16M344 -180h8M312 -188h8M312 -196h8M312 -204h8M320 -212h40M328 -220h40M360 -228h8M368 -236h32"/><path stroke="#dae9f2" d="M232 -108h8M200 -116h8M232 -116h8M192 -124h8M232 -124h8M168 -140h8M216 -156h24M128 -164h88M128 -172h16M328 -180h16M320 -188h80M320 -196h80M320 -204h80M360 -212h40M368 -220h32M368 -228h32"/><path stroke="#d7e8f1" d="M224 -108h8M224 -116h8M224 -124h8M232 -132h8M160 -156h56"/><path stroke="#d5e7f1" d="M208 -108h16M208 -116h16M200 -124h24M176 -132h56M176 -140h64M160 -148h80"/></g></g></g>
<g transform="translate(128.1 1062.0)"><g clip-path="url(#hc)"><g filter="url(#hb)" stroke-width="8"><path stroke="#f8bfa4" d="M296 4h8M296 -4h8"/><path stroke="#facab1" d="M288 4h8M304 4h8M288 -4h8M304 -4h8"/><path stroke="#fcd3bc" d="M312 4h8M312 -4h8"/><path stroke="#fdd9c4" d="M280 4h8M320 4h8M280 -4h8M320 -4h8"/><path stroke="#fddcc9" d="M192 -68h16M192 -76h16M192 -84h24M184 -100h8M144 -108h16M144 -116h16M144 -124h16"/><path stroke="#fcdecd" d="M184 -68h8M184 -76h8M208 -76h8M184 -84h8M216 -84h8M184 -92h8M176 -100h8M136 -108h8M160 -108h8M136 -116h8M136 -124h8"/><path stroke="#fce0d0" d="M272 4h8M328 4h8M272 -4h8M328 -4h8M192 -60h8M208 -68h8M216 -76h8M176 -92h8M136 -100h40M168 -108h24"/><path stroke="#fce2d2" d="M272 -12h16M320 -12h8M184 -60h8M200 -60h8M176 -68h8M176 -76h8M176 -84h8M136 -92h40M192 -92h8M128 -108h8M128 -116h8M160 -116h8M128 -124h8"/><path stroke="#fbe4d6" d="M264 4h8M264 -4h8M264 -12h8M312 -12h8M328 -12h8M352 -36h48M352 -44h48M192 -52h8M360 -52h40M208 -60h8M360 -60h40M128 -68h48M216 -68h40M360 -68h40M128 -76h48M128 -84h48M128 -92h8M128 -100h8M128 -132h16"/><path stroke="#fbe6da" d="M304 -12h8M264 -20h16M328 -20h8M336 -28h64M184 -36h16M344 -36h8M184 -44h16M184 -52h8M352 -52h8M176 -60h8M216 -60h8M352 -60h8M120 -68h8M352 -68h8M120 -76h8M224 -76h8M120 -84h8M120 -92h8M120 -100h8M120 -108h8M120 -116h8M120 -124h8M144 -132h8M128 -140h8"/><path stroke="#fae8de" d="M256 4h8M336 4h8M256 -4h8M336 -4h8M256 -12h8M288 -12h8M256 -20h8M328 -28h8M336 -36h8M344 -44h8M200 -52h8M224 -60h32M352 -76h48M224 -84h8M200 -92h8M192 -100h8M160 -124h8M120 -132h8M120 -140h8"/><path stroke="#fae9df" d="M296 -12h8M336 -12h8M280 -20h8M320 -20h8M336 -20h64M184 -28h16M256 -28h16M200 -36h8M328 -36h8M200 -44h8M336 -44h8M208 -52h48M344 -52h8M128 -60h48M344 -60h8M112 -68h8M344 -68h8M112 -76h8M112 -84h8M360 -84h40M112 -92h8M208 -92h16M112 -100h8M112 -108h8M112 -116h8M112 -124h8"/><path stroke="#f9ebe3" d="M208 4h48M344 4h56M208 -4h48M344 -4h56M208 -12h48M344 -12h56M200 -20h56M200 -28h56M208 -36h48M208 -44h48M328 -44h8M176 -52h8M328 -52h16M120 -60h8M328 -60h16M80 -68h32M328 -68h16M80 -76h32M232 -76h24M344 -76h8M-16 -84h56M80 -84h32M352 -84h8M-16 -92h56M80 -92h32M352 -92h48M-16 -100h56M80 -100h32M352 -100h48M-16 -108h56M80 -108h32M360 -108h40M-16 -116h56M80 -116h32M-16 -124h56M80 -124h32M-16 -132h56M112 -132h8M152 -132h8M-16 -140h56M136 -140h8M-16 -148h56M128 -148h8"/><path stroke="#f9eee7" d="M200 4h8M200 -4h8M200 -12h8M272 -28h8M176 -36h8M256 -36h8M176 -44h8M80 -60h40M256 -68h8M328 -76h16M40 -92h8M40 -100h8M40 -108h8M352 -108h8M40 -116h8M40 -124h8M40 -132h8M80 -132h32M40 -140h8M120 -148h8"/><path stroke="#f9f0eb" d="M176 -28h8M320 -28h8M264 -36h8M256 -44h8M120 -52h56M72 -60h8M256 -60h8M72 -68h8M-16 -76h56M72 -76h8M40 -84h8M72 -84h8M344 -84h8M72 -92h8M344 -92h8M72 -100h8M344 -100h8M72 -108h8M344 -108h8M72 -116h8M168 -116h8M352 -116h48M72 -124h8M72 -132h8M80 -140h40M40 -148h8M-16 -156h64"/><path stroke="#f8f1ed" d="M192 -20h8M280 -28h8M144 -36h32M144 -44h32M72 -52h48M256 -52h8M-16 -68h88M40 -76h32M256 -76h8M48 -84h24M328 -84h16M48 -92h24M224 -92h8M328 -92h16M48 -100h24M328 -100h16M48 -108h24M192 -108h8M328 -108h16M48 -116h24M328 -116h24M48 -124h24M328 -124h72M48 -132h24M328 -132h72M48 -140h32M328 -140h72M48 -148h24M360 -148h40M48 -156h24M360 -156h40M-16 -164h88M360 -164h40M-16 -172h88M-16 -180h88"/><path stroke="#f8f3f0" d="M192 4h8M192 -4h8M192 -12h8M184 -20h8M312 -20h8M144 -28h32M136 -36h8M320 -36h8M96 -44h48M320 -44h8M64 -52h8M320 -52h8M56 -60h16M320 -60h8M320 -68h8M232 -84h24M320 -108h8M320 -116h8M280 -124h48M320 -132h8M144 -140h8M72 -148h8M352 -148h8"/><path stroke="#f7f5f4" d="M176 -20h8M136 -28h8M96 -36h40M272 -36h8M88 -44h8M264 -44h8M56 -52h8M32 -60h24M320 -76h8M256 -84h8M320 -100h8M312 -108h8M176 -116h16M272 -116h48M272 -124h8M160 -132h8M80 -148h40M136 -148h8M328 -148h24M352 -156h8M352 -164h8M-16 -188h88"/><path stroke="#f6f7f7" d="M176 4h16M176 -4h16M176 -12h16M144 -20h32M64 -44h24M32 -52h24M264 -84h8M320 -84h8M248 -92h24M320 -92h8M248 -100h24M248 -108h64M248 -116h24M248 -124h24M312 -132h8M320 -140h8"/><path stroke="#f5f6f7" d="M168 -12h8M128 -28h8M56 -44h8M264 -52h8M24 -60h8M264 -60h8M264 -68h8M264 -76h8M240 -92h8M272 -100h8M312 -100h8M280 -132h32M72 -156h8M-16 -196h88"/><path stroke="#f2f5f6" d="M168 4h8M168 -4h8M136 -20h8M288 -20h8M304 -20h8M96 -28h32M88 -36h8M280 -36h8M40 -44h16M-16 -60h40M232 -92h8M200 -100h8M248 -132h32M320 -148h8M128 -156h8M344 -156h8"/><path stroke="#eff3f5" d="M160 -12h8M312 -28h8M32 -44h8M272 -44h8M272 -92h8M280 -100h32M152 -140h8M120 -156h8M72 -164h8M72 -172h8M360 -172h40M72 -180h8M208 -188h56M208 -196h56M-16 -204h88M160 -204h104M-16 -212h88M160 -212h104M-16 -220h88M160 -220h104M-16 -228h88M128 -228h136M-16 -236h88M128 -236h144M-16 -244h328M-16 -252h328M-16 -260h336M-16 -268h376M-16 -276h376M-16 -284h416M-16 -292h416M-16 -300h416M-16 -308h416M-16 -316h416M-16 -324h416"/><path stroke="#ecf2f5" d="M144 -12h16M88 -28h8M24 -52h8M312 -92h8M208 -100h16M240 -100h8M192 -116h8M312 -140h8M144 -148h8M80 -156h40M328 -156h16M352 -172h8M240 -180h24M72 -188h8M200 -188h8M264 -188h8M192 -196h16M264 -196h8M152 -204h8M264 -204h8M152 -212h8M264 -212h8M128 -220h32M264 -220h8M264 -228h8M72 -236h8M120 -236h8M272 -236h8M312 -244h8M312 -252h8M320 -260h40M360 -268h8M360 -276h40"/><path stroke="#eaf1f5" d="M136 -12h8M128 -20h8M288 -28h8M40 -36h48M312 -36h8M272 -52h8M272 -60h8M272 -68h8M272 -76h8M272 -84h8M168 -124h8M248 -140h24M136 -156h8M320 -156h8M344 -164h8M200 -180h40M264 -180h8M72 -196h8M160 -196h32M144 -212h8M72 -220h8M72 -228h8M120 -228h8M272 -228h8M80 -236h40M280 -236h40M320 -252h40M360 -260h8"/><path stroke="#e7f0f4" d="M160 4h8M160 -4h8M96 -20h32M32 -36h8M24 -44h8M312 -44h8M-16 -52h40M312 -52h8M312 -60h8M312 -68h8M312 -76h8M312 -84h8M280 -92h8M304 -92h8M224 -100h8M240 -108h8M240 -116h8M240 -124h8M272 -140h40M248 -172h24M192 -188h8M152 -196h8M72 -204h8M72 -212h8M136 -212h8M272 -212h8M120 -220h8M272 -220h8M80 -228h40M280 -228h32M320 -244h8M360 -252h8M368 -268h32"/><path stroke="#e4eef4" d="M-16 4h176M-16 -4h176M-16 -12h152M-16 -20h112M296 -20h8M-16 -28h104M304 -28h8M-16 -36h48M288 -36h8M-16 -44h40M280 -44h8M288 -92h16M232 -100h8M240 -132h8M248 -148h16M312 -148h8M144 -156h8M248 -156h16M248 -164h16M216 -172h32M192 -180h8M272 -180h8M152 -188h40M272 -188h8M272 -196h8M144 -204h8M272 -204h8M120 -212h16M112 -220h8M312 -228h8M320 -236h8M328 -244h32M368 -260h8"/><path stroke="#e1edf3" d="M280 -84h8M304 -84h8M160 -140h8M264 -148h8M264 -156h8M312 -156h8M264 -164h8M200 -172h16M272 -172h8M344 -172h8M160 -180h32M360 -180h40M144 -196h8M136 -204h8M112 -212h8M80 -220h32M280 -220h40M320 -228h8M328 -236h32M360 -244h8M368 -252h32M376 -260h24"/><path stroke="#e0ecf3" d="M304 -36h8M288 -44h8M280 -76h8M304 -76h8M288 -84h16M168 -132h8M240 -140h8M272 -148h40M240 -156h8M272 -156h40M80 -164h40M240 -164h8M272 -164h72M80 -172h40M192 -172h8M280 -172h32M80 -180h40M144 -180h16M280 -180h32M352 -180h8M80 -188h72M280 -188h32M80 -196h64M280 -196h32M80 -204h56M280 -204h32M80 -212h32M280 -212h40M320 -220h8M328 -228h32M360 -236h8M368 -244h32"/><path stroke="#ddebf2" d="M296 -28h8M304 -44h8M280 -52h8M304 -52h8M280 -60h8M304 -60h8M280 -68h8M304 -68h8M288 -76h16M200 -108h8M176 -124h16M152 -148h8M240 -148h8M152 -156h8M120 -164h8M216 -164h24M120 -172h8M144 -172h48M312 -172h32M120 -180h24M312 -180h16M344 -180h8M312 -188h8M312 -196h8M312 -204h8M320 -212h40M328 -220h40M360 -228h8M368 -236h32"/><path stroke="#dae9f2" d="M296 -36h8M296 -44h8M288 -52h16M288 -60h16M288 -68h16M232 -108h8M200 -116h8M232 -116h8M192 -124h8M232 -124h8M168 -140h8M216 -156h24M128 -164h88M128 -172h16M328 -180h16M320 -188h80M320 -196h80M320 -204h80M360 -212h40M368 -220h32M368 -228h32"/><path stroke="#d7e8f1" d="M224 -108h8M224 -116h8M224 -124h8M232 -132h8M160 -156h56"/><path stroke="#d5e7f1" d="M208 -108h16M208 -116h16M200 -124h24M176 -132h56M176 -140h64M160 -148h80"/></g></g></g>
<g transform="translate(548.6 1062.0)"><g clip-path="url(#hc)"><g filter="url(#hb)" stroke-width="8"><path stroke="#f5aa89" d="M320 4h8M320 -4h8"/><path stroke="#f5ac8b" d="M328 4h8M328 -4h8"/><path stroke="#f7b99c" d="M312 4h8M312 -4h8"/><path stroke="#f9c4a9" d="M304 4h8M304 -4h8"/><path stroke="#fac8af" d="M336 4h8M336 -4h8"/><path stroke="#fbceb7" d="M296 4h8M296 -4h8"/><path stroke="#fcd3bc" d="M264 4h32M264 -4h32M304 -12h8"/><path stroke="#fcd7c2" d="M264 -12h40M312 -12h8"/><path stroke="#fdd9c4" d="M344 4h8M344 -4h8"/><path stroke="#fddcc9" d="M192 -68h16M192 -76h16M192 -84h24M184 -100h8M144 -108h16M144 -116h16M144 -124h16"/><path stroke="#fcdecd" d="M336 -12h8M184 -68h8M184 -76h8M208 -76h8M184 -84h8M216 -84h8M184 -92h8M176 -100h8M136 -108h8M160 -108h8M136 -116h8M136 -124h8"/><path stroke="#fce0d0" d="M256 4h8M256 -4h8M320 -12h8M344 -12h8M264 -20h48M192 -60h8M208 -68h8M216 -76h8M176 -92h8M136 -100h40M168 -108h24"/><path stroke="#fce2d2" d="M352 4h8M352 -4h8M256 -12h8M328 -12h8M352 -12h8M184 -60h8M200 -60h8M176 -68h8M176 -76h8M176 -84h8M136 -92h40M192 -92h8M128 -108h8M128 -116h8M160 -116h8M128 -124h8"/><path stroke="#fbe4d6" d="M360 4h40M360 -4h40M360 -12h40M256 -20h8M344 -20h56M352 -28h48M192 -52h8M208 -60h8M128 -68h48M216 -68h40M128 -76h48M128 -84h48M128 -92h8M128 -100h8M128 -132h16"/><path stroke="#fbe6da" d="M184 -36h16M360 -36h40M184 -44h16M184 -52h8M176 -60h8M216 -60h8M120 -68h8M120 -76h8M224 -76h8M120 -84h8M120 -92h8M120 -100h8M120 -108h8M120 -116h8M120 -124h8M144 -132h8M128 -140h8"/><path stroke="#fae8de" d="M264 -28h32M344 -28h8M352 -36h8M200 -52h8M224 -60h32M224 -84h8M200 -92h8M192 -100h8M160 -124h8M120 -132h8M120 -140h8"/><path stroke="#fae9df" d="M312 -20h8M184 -28h16M256 -28h8M296 -28h8M200 -36h8M200 -44h8M360 -44h40M208 -52h48M128 -60h48M112 -68h8M112 -76h8M112 -84h8M112 -92h8M208 -92h16M112 -100h8M112 -108h8M112 -116h8M112 -124h8"/><path stroke="#f9ebe3" d="M208 4h48M208 -4h48M208 -12h48M200 -20h56M336 -20h8M200 -28h56M208 -36h48M208 -44h48M176 -52h8M360 -52h40M120 -60h8M360 -60h40M80 -68h32M360 -68h40M80 -76h32M232 -76h24M-16 -84h56M80 -84h32M-16 -92h56M80 -92h32M-16 -100h56M80 -100h32M-16 -108h56M80 -108h32M-16 -116h56M80 -116h32M-16 -124h56M80 -124h32M-16 -132h56M112 -132h8M152 -132h8M-16 -140h56M136 -140h8M-16 -148h56M128 -148h8M360 -164h40"/><path stroke="#f9eee7" d="M200 4h8M200 -4h8M200 -12h8M304 -28h8M176 -36h8M256 -36h8M176 -44h8M352 -44h8M80 -60h40M256 -68h8M360 -76h40M40 -92h8M40 -100h8M40 -108h8M40 -116h8M40 -124h8M40 -132h8M80 -132h32M40 -140h8M120 -148h8M360 -156h40"/><path stroke="#f9f0eb" d="M176 -28h8M336 -28h8M264 -36h32M344 -36h8M256 -44h8M120 -52h56M352 -52h8M72 -60h8M256 -60h8M352 -60h8M72 -68h8M352 -68h8M-16 -76h56M72 -76h8M40 -84h8M72 -84h8M72 -92h8M72 -100h8M72 -108h8M72 -116h8M168 -116h8M72 -124h8M72 -132h8M80 -140h40M40 -148h8M-16 -156h64M352 -164h8"/><path stroke="#f8f1ed" d="M192 -20h8M144 -36h32M296 -36h8M144 -44h32M72 -52h48M256 -52h8M-16 -68h88M40 -76h32M256 -76h8M352 -76h8M48 -84h24M360 -84h40M48 -92h24M224 -92h8M360 -92h40M48 -100h24M360 -100h40M48 -108h24M192 -108h8M360 -108h40M48 -116h24M360 -116h40M48 -124h24M360 -124h40M48 -132h24M328 -132h72M48 -140h32M328 -140h72M48 -148h24M352 -148h48M48 -156h24M352 -156h8M-16 -164h88M-16 -172h88M-16 -180h88"/><path stroke="#f8f3f0" d="M192 4h8M192 -4h8M192 -12h8M184 -20h8M144 -28h32M136 -36h8M96 -44h48M264 -44h32M64 -52h8M56 -60h16M232 -84h24M352 -84h8M352 -92h8M352 -100h8M352 -108h8M344 -116h16M296 -124h64M320 -132h8M144 -140h8M72 -148h8M344 -148h8"/><path stroke="#f7f5f4" d="M176 -20h8M136 -28h8M312 -28h8M96 -36h40M88 -44h8M56 -52h8M32 -60h24M256 -84h8M344 -92h8M344 -100h8M344 -108h8M176 -116h16M288 -124h8M160 -132h8M80 -148h40M136 -148h8M328 -148h16M-16 -188h88"/><path stroke="#f6f7f7" d="M176 4h16M176 -4h16M176 -12h16M144 -20h32M304 -36h8M336 -36h8M64 -44h24M296 -44h8M32 -52h24M264 -52h24M264 -60h24M264 -68h16M264 -76h16M264 -84h16M344 -84h8M248 -92h32M248 -100h32M248 -108h32M248 -116h40M336 -116h8M248 -124h40M312 -132h8M320 -140h8M360 -172h40"/><path stroke="#f5f6f7" d="M168 -12h8M128 -28h8M56 -44h8M344 -44h8M288 -52h8M24 -60h8M280 -68h8M280 -76h8M280 -84h8M240 -92h8M280 -92h8M280 -100h8M280 -108h8M336 -108h8M296 -132h16M72 -156h8M344 -156h8M-16 -196h88"/><path stroke="#f2f5f6" d="M168 4h8M168 -4h8M136 -20h8M96 -28h32M88 -36h8M40 -44h16M-16 -60h40M344 -76h8M232 -92h8M336 -92h8M200 -100h8M336 -100h8M288 -116h8M328 -116h8M248 -132h24M288 -132h8M320 -148h8M128 -156h8M352 -172h8"/><path stroke="#eff3f5" d="M160 -12h8M320 -20h16M32 -44h8M296 -52h8M344 -52h8M288 -60h8M344 -60h8M344 -68h8M336 -84h8M296 -116h32M272 -132h16M152 -140h8M120 -156h8M72 -164h8M72 -172h8M72 -180h8M208 -188h56M208 -196h56M-16 -204h88M160 -204h104M-16 -212h88M160 -212h104M-16 -220h88M160 -220h104M-16 -228h88M128 -228h136M-16 -236h88M128 -236h144M-16 -244h328M-16 -252h328M-16 -260h336M-16 -268h376M-16 -276h376M-16 -284h416M-16 -292h416M-16 -300h416M-16 -308h416M-16 -316h416M-16 -324h416"/><path stroke="#ecf2f5" d="M144 -12h16M88 -28h8M312 -36h8M304 -44h8M24 -52h8M208 -100h16M240 -100h8M288 -108h8M192 -116h8M312 -140h8M144 -148h8M80 -156h40M328 -156h16M344 -164h8M240 -180h24M72 -188h8M200 -188h8M264 -188h8M192 -196h16M264 -196h8M152 -204h8M264 -204h8M152 -212h8M264 -212h8M128 -220h32M264 -220h8M264 -228h8M72 -236h8M120 -236h8M272 -236h8M312 -244h8M312 -252h8M320 -260h40M360 -268h8M360 -276h40"/><path stroke="#eaf1f5" d="M136 -12h8M128 -20h8M328 -28h8M40 -36h48M336 -44h8M296 -60h8M288 -68h8M288 -76h8M288 -100h8M328 -108h8M168 -124h8M248 -140h16M136 -156h8M320 -156h8M200 -180h40M264 -180h8M72 -196h8M160 -196h32M144 -212h8M72 -220h8M72 -228h8M120 -228h8M272 -228h8M80 -236h40M280 -236h40M320 -252h40M360 -260h8"/><path stroke="#e7f0f4" d="M160 4h8M160 -4h8M96 -20h32M320 -28h8M32 -36h8M24 -44h8M-16 -52h40M336 -76h8M288 -84h8M328 -84h8M288 -92h8M328 -92h8M224 -100h8M328 -100h8M240 -108h8M240 -116h8M240 -124h8M264 -140h16M288 -140h24M248 -172h24M192 -188h8M152 -196h8M72 -204h8M72 -212h8M136 -212h8M272 -212h8M120 -220h8M272 -220h8M80 -228h40M280 -228h32M320 -244h8M360 -252h8M368 -268h32"/><path stroke="#e4eef4" d="M-16 4h176M-16 -4h176M-16 -12h152M-16 -20h112M-16 -28h104M-16 -36h48M328 -36h8M-16 -44h40M304 -52h8M232 -100h8M296 -108h32M240 -132h8M280 -140h8M248 -148h16M312 -148h8M144 -156h8M248 -156h16M248 -164h16M216 -172h32M344 -172h8M192 -180h8M272 -180h8M152 -188h40M272 -188h8M272 -196h8M144 -204h8M272 -204h8M120 -212h16M112 -220h8M312 -228h8M320 -236h8M328 -244h32M368 -260h8"/><path stroke="#e1edf3" d="M320 -36h8M312 -44h8M336 -52h8M304 -60h8M336 -60h8M296 -68h8M336 -68h8M296 -76h8M328 -76h8M320 -84h8M320 -92h8M296 -100h32M160 -140h8M264 -148h8M264 -156h8M312 -156h8M264 -164h8M200 -172h16M272 -172h8M160 -180h32M352 -180h48M144 -196h8M136 -204h8M112 -212h8M80 -220h32M280 -220h40M320 -228h8M328 -236h32M360 -244h8M368 -252h32M376 -260h24"/><path stroke="#e0ecf3" d="M328 -44h8M304 -68h8M304 -76h16M296 -84h24M296 -92h24M168 -132h8M240 -140h8M272 -148h40M240 -156h8M272 -156h40M80 -164h40M240 -164h8M272 -164h72M80 -172h40M192 -172h8M280 -172h32M80 -180h40M144 -180h16M280 -180h32M80 -188h72M280 -188h32M80 -196h64M280 -196h32M80 -204h56M280 -204h32M80 -212h32M280 -212h40M320 -220h8M328 -228h32M360 -236h8M368 -244h32"/><path stroke="#ddebf2" d="M320 -44h8M312 -52h8M328 -52h8M312 -60h8M328 -60h8M312 -68h8M328 -68h8M320 -76h8M200 -108h8M176 -124h16M152 -148h8M240 -148h8M152 -156h8M120 -164h8M216 -164h24M120 -172h8M144 -172h48M312 -172h32M120 -180h24M312 -180h16M344 -180h8M312 -188h8M312 -196h8M312 -204h8M320 -212h40M328 -220h40M360 -228h8M368 -236h32"/><path stroke="#dae9f2" d="M320 -52h8M320 -60h8M320 -68h8M232 -108h8M200 -116h8M232 -116h8M192 -124h8M232 -124h8M168 -140h8M216 -156h24M128 -164h88M128 -172h16M328 -180h16M320 -188h80M320 -196h80M320 -204h80M360 -212h40M368 -220h32M368 -228h32"/><path stroke="#d7e8f1" d="M224 -108h8M224 -116h8M224 -124h8M232 -132h8M160 -156h56"/><path stroke="#d5e7f1" d="M208 -108h16M208 -116h16M200 -124h24M176 -132h56M176 -140h64M160 -148h80"/></g></g></g>
<g transform="translate(969.0 1062.0)"><g clip-path="url(#hc)"><g filter="url(#hb)" stroke-width="8"><path stroke="#f5aa89" d="M336 4h16M336 -4h16"/><path stroke="#f7b99c" d="M328 4h8M352 4h8M328 -4h8M352 -4h8"/><path stroke="#f8bb9e" d="M360 4h40M360 -4h40M376 -12h24"/><path stroke="#f8bfa4" d="M336 -12h16M368 -12h8"/><path stroke="#f9c4a9" d="M360 -12h8M376 -20h24"/><path stroke="#fac8af" d="M320 4h8M320 -4h8M352 -12h8M368 -20h8"/><path stroke="#fbceb7" d="M328 -12h8"/><path stroke="#fcd3bc" d="M360 -20h8"/><path stroke="#fcd7c2" d="M312 4h8M312 -4h8M376 -28h24"/><path stroke="#fdd9c4" d="M320 -12h8M352 -20h8M368 -28h8"/><path stroke="#fddcc9" d="M264 4h48M264 -4h48M344 -20h8M192 -68h16M192 -76h16M192 -84h16M184 -100h8M144 -108h16M144 -116h16M144 -124h16"/><path stroke="#fcdecd" d="M312 -12h8M184 -68h8M184 -76h8M184 -84h8M208 -84h16M184 -92h8M176 -100h8M136 -108h8M160 -108h8M136 -116h8M136 -124h8"/><path stroke="#fce0d0" d="M264 -12h48M376 -36h24M192 -60h8M208 -76h8M176 -92h8M136 -100h40M168 -108h24"/><path stroke="#fce2d2" d="M336 -20h8M360 -28h8M184 -60h8M200 -60h8M176 -68h8M208 -68h8M176 -76h8M176 -84h8M136 -92h40M192 -92h8M128 -108h8M128 -116h8M160 -116h8M128 -124h8"/><path stroke="#fbe4d6" d="M256 4h8M256 -4h8M368 -36h8M192 -52h8M128 -68h48M128 -76h48M216 -76h8M128 -84h48M128 -92h8M128 -100h8M128 -132h16"/><path stroke="#fbe6da" d="M256 -12h8M264 -20h8M184 -36h16M184 -44h16M184 -52h8M176 -60h8M208 -60h8M120 -68h8M120 -76h8M120 -84h8M120 -92h8M120 -100h8M120 -108h8M120 -116h8M120 -124h8M144 -132h8M128 -140h8"/><path stroke="#fae8de" d="M256 -20h8M272 -20h8M328 -20h8M376 -44h24M200 -52h8M200 -92h8M192 -100h8M160 -124h8M120 -132h8M120 -140h8"/><path stroke="#fae9df" d="M280 -20h40M184 -28h16M256 -28h8M352 -28h8M200 -36h8M200 -44h8M368 -44h8M208 -52h8M128 -60h48M216 -60h8M112 -68h8M216 -68h8M112 -76h8M224 -76h8M112 -84h8M224 -84h8M112 -92h8M208 -92h16M112 -100h8M112 -108h8M112 -116h8M112 -124h8"/><path stroke="#f9ebe3" d="M208 4h48M208 -4h48M208 -12h48M200 -20h56M320 -20h8M200 -28h56M264 -28h8M208 -36h48M360 -36h8M208 -44h48M176 -52h8M216 -52h40M120 -60h8M224 -60h32M80 -68h32M224 -68h32M80 -76h32M-16 -84h56M80 -84h32M-16 -92h56M80 -92h32M-16 -100h56M80 -100h32M-16 -108h56M80 -108h32M-16 -116h56M80 -116h32M-16 -124h56M80 -124h32M-16 -132h56M112 -132h8M152 -132h8M-16 -140h56M136 -140h8M-16 -148h56M128 -148h8"/><path stroke="#f9eee7" d="M200 4h8M200 -4h8M200 -12h8M176 -36h8M256 -36h8M176 -44h8M376 -52h24M80 -60h40M40 -92h8M40 -100h8M40 -108h8M40 -116h8M40 -124h8M40 -132h8M80 -132h32M40 -140h8M120 -148h8"/><path stroke="#f9f0eb" d="M176 -28h8M264 -36h8M256 -44h8M120 -52h56M368 -52h8M72 -60h8M72 -68h8M-16 -76h56M72 -76h8M232 -76h24M40 -84h8M72 -84h8M72 -92h8M72 -100h8M72 -108h8M72 -116h8M168 -116h8M72 -124h8M72 -132h8M80 -140h40M40 -148h8M-16 -156h64"/><path stroke="#f8f1ed" d="M192 -20h8M144 -36h32M144 -44h32M72 -52h48M256 -52h8M256 -60h8M376 -60h24M-16 -68h88M256 -68h8M40 -76h32M48 -84h24M48 -92h24M224 -92h8M48 -100h24M48 -108h24M192 -108h8M48 -116h24M48 -124h24M48 -132h24M48 -140h32M48 -148h24M48 -156h24M-16 -164h88M-16 -172h88M-16 -180h88"/><path stroke="#f8f3f0" d="M192 4h8M192 -4h8M192 -12h8M184 -20h8M144 -28h32M136 -36h8M96 -44h48M64 -52h8M56 -60h16M256 -76h8M280 -124h32M312 -132h8M144 -140h8M312 -140h16M72 -148h8M352 -148h8M360 -164h40"/><path stroke="#f7f5f4" d="M176 -20h8M136 -28h8M272 -28h8M344 -28h8M96 -36h40M88 -44h8M264 -44h8M56 -52h8M32 -60h24M368 -60h8M232 -84h24M176 -116h16M272 -116h16M272 -124h8M312 -124h8M160 -132h8M304 -132h8M320 -132h8M328 -140h8M80 -148h40M136 -148h8M312 -148h40M352 -156h16M352 -164h8M-16 -188h88"/><path stroke="#f6f7f7" d="M176 4h16M176 -4h16M176 -12h16M144 -20h32M352 -36h8M64 -44h24M360 -44h8M32 -52h24M376 -68h24M264 -76h8M256 -84h16M248 -92h32M248 -100h32M248 -108h32M248 -116h24M248 -124h24M320 -124h8M304 -140h8M336 -140h8"/><path stroke="#f5f6f7" d="M168 -12h8M128 -28h8M56 -44h8M264 -52h8M24 -60h8M264 -60h8M264 -68h8M368 -68h8M272 -84h8M240 -92h8M280 -92h8M280 -100h8M280 -108h8M288 -116h8M280 -132h24M328 -132h8M344 -140h16M360 -148h8M72 -156h8M368 -156h8M-16 -196h88"/><path stroke="#f2f5f6" d="M168 4h8M168 -4h8M136 -20h8M96 -28h32M88 -36h8M40 -44h16M-16 -60h40M280 -84h8M232 -92h8M200 -100h8M248 -132h32M304 -148h8M128 -156h8M344 -156h8M376 -156h24"/><path stroke="#eff3f5" d="M160 -12h8M336 -28h8M272 -36h8M32 -44h8M360 -52h8M272 -76h8M296 -116h24M328 -124h8M152 -140h8M360 -140h8M120 -156h8M72 -164h8M72 -172h8M360 -172h40M72 -180h8M208 -188h56M208 -196h56M-16 -204h88M160 -204h104M-16 -212h88M160 -212h104M-16 -220h88M160 -220h104M-16 -228h88M128 -228h136M-16 -236h88M128 -236h144M-16 -244h328M-16 -252h328M-16 -260h336M-16 -268h376M-16 -276h376M-16 -284h416M-16 -292h416M-16 -300h416M-16 -308h416M-16 -316h416M-16 -324h416"/><path stroke="#ecf2f5" d="M144 -12h16M88 -28h8M280 -28h40M328 -28h8M24 -52h8M376 -76h24M208 -100h16M240 -100h8M288 -108h8M192 -116h8M320 -116h8M336 -132h8M144 -148h8M80 -156h40M312 -156h32M352 -172h8M240 -180h24M72 -188h8M200 -188h8M264 -188h8M192 -196h16M264 -196h8M152 -204h8M264 -204h8M152 -212h8M264 -212h8M128 -220h32M264 -220h8M264 -228h8M72 -236h8M120 -236h8M272 -236h8M312 -244h8M312 -252h8M320 -260h40M360 -268h8M360 -276h40"/><path stroke="#eaf1f5" d="M136 -12h8M128 -20h8M320 -28h8M40 -36h48M344 -36h8M272 -44h8M352 -44h8M272 -52h8M272 -60h8M360 -60h8M272 -68h8M368 -76h8M288 -92h8M288 -100h8M328 -116h8M168 -124h8M248 -140h24M296 -140h8M368 -148h8M136 -156h8M344 -164h8M200 -180h40M264 -180h8M72 -196h8M160 -196h32M144 -212h8M72 -220h8M72 -228h8M120 -228h8M272 -228h8M80 -236h40M280 -236h40M320 -252h40M360 -260h8"/><path stroke="#e7f0f4" d="M160 4h8M160 -4h8M96 -20h32M32 -36h8M24 -44h8M-16 -52h40M360 -68h8M280 -76h8M288 -84h8M224 -100h8M240 -108h8M240 -116h8M240 -124h8M344 -132h16M272 -140h24M376 -148h24M304 -156h8M248 -172h24M192 -188h8M152 -196h8M72 -204h8M72 -212h8M136 -212h8M272 -212h8M120 -220h8M272 -220h8M80 -228h40M280 -228h32M320 -244h8M360 -252h8M368 -268h32"/><path stroke="#e4eef4" d="M-16 4h176M-16 -4h176M-16 -12h152M-16 -20h112M-16 -28h104M-16 -36h48M-16 -44h40M288 -76h8M360 -76h8M296 -92h16M232 -100h8M296 -100h16M296 -108h32M336 -124h8M240 -132h8M360 -132h8M368 -140h8M248 -148h16M144 -156h8M248 -156h16M248 -164h16M216 -172h32M192 -180h8M272 -180h8M152 -188h40M272 -188h8M272 -196h8M144 -204h8M272 -204h8M120 -212h16M112 -220h8M312 -228h8M320 -236h8M328 -244h32M368 -260h8"/><path stroke="#e1edf3" d="M280 -36h40M344 -44h8M352 -52h8M296 -84h24M368 -84h32M312 -92h8M312 -100h24M328 -108h8M336 -116h8M368 -132h8M160 -140h8M376 -140h24M264 -148h8M296 -148h8M264 -156h8M264 -164h8M200 -172h16M272 -172h8M344 -172h8M160 -180h32M360 -180h40M144 -196h8M136 -204h8M112 -212h8M80 -220h32M280 -220h40M320 -228h8M328 -236h32M360 -244h8M368 -252h32M376 -260h24"/><path stroke="#e0ecf3" d="M320 -36h8M336 -36h8M280 -44h40M280 -52h32M280 -60h32M352 -60h8M280 -68h32M296 -76h24M320 -84h8M352 -84h16M320 -92h80M336 -100h64M336 -108h64M344 -116h56M344 -124h56M168 -132h8M376 -132h24M240 -140h8M272 -148h24M240 -156h8M272 -156h32M80 -164h40M240 -164h8M272 -164h72M80 -172h40M192 -172h8M280 -172h32M80 -180h40M144 -180h16M280 -180h32M352 -180h8M80 -188h72M280 -188h32M80 -196h64M280 -196h32M80 -204h56M280 -204h32M80 -212h32M280 -212h40M320 -220h8M328 -228h32M360 -236h8M368 -244h32"/><path stroke="#ddebf2" d="M328 -36h8M320 -44h8M336 -44h8M312 -52h8M344 -52h8M312 -60h8M344 -60h8M312 -68h8M352 -68h8M320 -76h40M328 -84h24M200 -108h8M176 -124h16M152 -148h8M240 -148h8M152 -156h8M120 -164h8M216 -164h24M120 -172h8M144 -172h48M312 -172h32M120 -180h24M312 -180h16M344 -180h8M312 -188h8M312 -196h8M312 -204h8M320 -212h40M328 -220h40M360 -228h8M368 -236h32"/><path stroke="#dae9f2" d="M328 -44h8M320 -52h24M320 -60h24M320 -68h32M232 -108h8M200 -116h8M232 -116h8M192 -124h8M232 -124h8M168 -140h8M216 -156h24M128 -164h88M128 -172h16M328 -180h16M320 -188h80M320 -196h80M320 -204h80M360 -212h40M368 -220h32M368 -228h32"/><path stroke="#d7e8f1" d="M224 -108h8M224 -116h8M224 -124h8M232 -132h8M160 -156h56"/><path stroke="#d5e7f1" d="M208 -108h16M208 -116h16M200 -124h24M176 -132h56M176 -140h64M160 -148h80"/></g></g></g>
<g transform="translate(1389.3 1062.0)"><g clip-path="url(#hc)"><g filter="url(#hb)" stroke-width="8"><path stroke="#f2a17f" d="M360 4h40M360 -4h40M368 -12h32"/><path stroke="#f4a683" d="M352 4h8M352 -4h8M376 -20h24"/><path stroke="#f5ac8b" d="M360 -12h8M368 -20h8"/><path stroke="#f7b596" d="M344 4h8M344 -4h8M352 -12h8"/><path stroke="#f7b99c" d="M376 -28h24"/><path stroke="#f8bb9e" d="M360 -20h8"/><path stroke="#f8bfa4" d="M368 -28h8"/><path stroke="#f9c4a9" d="M336 4h8M336 -4h8"/><path stroke="#fac8af" d="M344 -12h8"/><path stroke="#fbceb7" d="M352 -20h8"/><path stroke="#fcd3bc" d="M336 -12h8"/><path stroke="#fcd7c2" d="M328 4h8M328 -4h8"/><path stroke="#fdd9c4" d="M360 -28h8"/><path stroke="#fddcc9" d="M264 4h64M264 -4h64M344 -20h8M376 -36h24M192 -68h16M192 -76h16M192 -84h16M184 -100h8M144 -108h16M144 -116h16M144 -124h16"/><path stroke="#fcdecd" d="M328 -12h8M184 -68h8M184 -76h8M184 -84h8M208 -84h16M184 -92h8M176 -100h8M136 -108h8M160 -108h8M136 -116h8M136 -124h8"/><path stroke="#fce0d0" d="M264 -12h64M368 -36h8M192 -60h8M208 -76h8M176 -92h8M136 -100h40M168 -108h24"/><path stroke="#fce2d2" d="M184 -60h8M200 -60h8M176 -68h8M208 -68h8M176 -76h8M176 -84h8M136 -92h40M192 -92h8M128 -108h8M128 -116h8M160 -116h8M128 -124h8"/><path stroke="#fbe4d6" d="M256 4h8M256 -4h8M336 -20h8M192 -52h8M128 -68h48M128 -76h48M216 -76h8M128 -84h48M128 -92h8M128 -100h8M128 -132h16"/><path stroke="#fbe6da" d="M256 -12h8M264 -20h48M328 -20h8M352 -28h8M184 -36h16M184 -44h16M184 -52h8M176 -60h8M208 -60h8M120 -68h8M120 -76h8M120 -84h8M120 -92h8M120 -100h8M120 -108h8M120 -116h8M120 -124h8M144 -132h8M128 -140h8"/><path stroke="#fae8de" d="M256 -20h8M312 -20h16M200 -52h8M200 -92h8M192 -100h8M160 -124h8M120 -132h8M120 -140h8"/><path stroke="#fae9df" d="M184 -28h16M256 -28h16M200 -36h8M200 -44h8M208 -52h8M128 -60h48M216 -60h8M112 -68h8M216 -68h8M112 -76h8M224 -76h8M112 -84h8M224 -84h8M112 -92h8M208 -92h16M112 -100h8M112 -108h8M112 -116h8M112 -124h8"/><path stroke="#f9ebe3" d="M208 4h48M208 -4h48M208 -12h48M200 -20h56M200 -28h56M208 -36h48M360 -36h8M208 -44h48M176 -52h8M216 -52h40M120 -60h8M224 -60h32M80 -68h32M224 -68h32M80 -76h32M-16 -84h56M80 -84h32M-16 -92h56M80 -92h32M-16 -100h56M80 -100h32M-16 -108h56M80 -108h32M-16 -116h56M80 -116h32M-16 -124h56M80 -124h32M-16 -132h56M112 -132h8M152 -132h8M-16 -140h56M136 -140h8M-16 -148h56M128 -148h8"/><path stroke="#f9eee7" d="M200 4h8M200 -4h8M200 -12h8M272 -28h8M344 -28h8M176 -36h8M256 -36h8M176 -44h8M80 -60h40M40 -92h8M40 -100h8M40 -108h8M40 -116h8M40 -124h8M40 -132h8M80 -132h32M40 -140h8M120 -148h8"/><path stroke="#f9f0eb" d="M176 -28h8M280 -28h40M264 -36h8M256 -44h8M120 -52h56M72 -60h8M72 -68h8M-16 -76h56M72 -76h8M232 -76h24M40 -84h8M72 -84h8M72 -92h8M72 -100h8M72 -108h8M72 -116h8M168 -116h8M72 -124h8M72 -132h8M80 -140h40M40 -148h8M-16 -156h64"/><path stroke="#f8f1ed" d="M192 -20h8M320 -28h8M336 -28h8M144 -36h32M144 -44h32M72 -52h48M256 -52h8M256 -60h8M-16 -68h88M256 -68h8M40 -76h32M48 -84h24M48 -92h24M224 -92h8M48 -100h24M48 -108h24M192 -108h8M48 -116h24M48 -124h24M48 -132h24M48 -140h32M48 -148h24M48 -156h24M-16 -164h88M-16 -172h88M-16 -180h88"/><path stroke="#f8f3f0" d="M192 4h8M192 -4h8M192 -12h8M184 -20h8M144 -28h32M328 -28h8M136 -36h8M272 -36h8M96 -44h48M64 -52h8M56 -60h16M256 -76h8M280 -124h32M312 -132h8M144 -140h8M312 -140h16M72 -148h8M352 -148h8M360 -164h40"/><path stroke="#f7f5f4" d="M176 -20h8M136 -28h8M96 -36h40M88 -44h8M264 -44h8M56 -52h8M32 -60h24M232 -84h24M176 -116h16M272 -116h16M272 -124h8M312 -124h8M160 -132h8M304 -132h8M320 -132h8M328 -140h8M80 -148h40M136 -148h8M312 -148h40M352 -156h16M352 -164h8M-16 -188h88"/><path stroke="#f6f7f7" d="M176 4h16M176 -4h16M176 -12h16M144 -20h32M280 -36h8M352 -36h8M64 -44h24M376 -44h24M32 -52h24M264 -52h8M264 -60h8M264 -68h16M264 -76h16M256 -84h24M248 -92h32M248 -100h32M248 -108h32M248 -116h24M248 -124h24M320 -124h8M304 -140h8M336 -140h8"/><path stroke="#f5f6f7" d="M168 -12h8M128 -28h8M288 -36h32M56 -44h8M368 -44h8M24 -60h8M280 -68h8M280 -76h8M280 -84h8M240 -92h8M280 -92h8M280 -100h8M280 -108h8M288 -116h8M280 -132h24M328 -132h8M344 -140h16M360 -148h8M72 -156h8M368 -156h8M-16 -196h88"/><path stroke="#f2f5f6" d="M168 4h8M168 -4h8M136 -20h8M96 -28h32M88 -36h8M344 -36h8M40 -44h16M272 -44h8M-16 -60h40M272 -60h8M232 -92h8M200 -100h8M248 -132h32M304 -148h8M128 -156h8M344 -156h8M376 -156h24"/><path stroke="#eff3f5" d="M160 -12h8M320 -36h24M32 -44h8M296 -116h24M328 -124h8M152 -140h8M360 -140h8M120 -156h8M72 -164h8M72 -172h8M360 -172h40M72 -180h8M208 -188h56M208 -196h56M-16 -204h88M160 -204h104M-16 -212h88M160 -212h104M-16 -220h88M160 -220h104M-16 -228h88M128 -228h136M-16 -236h88M128 -236h144M-16 -244h328M-16 -252h328M-16 -260h336M-16 -268h376M-16 -276h376M-16 -284h416M-16 -292h416M-16 -300h416M-16 -308h416M-16 -316h416M-16 -324h416"/><path stroke="#ecf2f5" d="M144 -12h16M88 -28h8M360 -44h8M24 -52h8M272 -52h8M280 -60h8M208 -100h16M240 -100h8M288 -108h8M192 -116h8M320 -116h8M336 -132h8M144 -148h8M80 -156h40M312 -156h32M352 -172h8M240 -180h24M72 -188h8M200 -188h8M264 -188h8M192 -196h16M264 -196h8M152 -204h8M264 -204h8M152 -212h8M264 -212h8M128 -220h32M264 -220h8M264 -228h8M72 -236h8M120 -236h8M272 -236h8M312 -244h8M312 -252h8M320 -260h40M360 -268h8M360 -276h40"/><path stroke="#eaf1f5" d="M136 -12h8M128 -20h8M40 -36h48M280 -44h8M288 -76h8M288 -84h8M288 -92h8M288 -100h8M328 -116h8M168 -124h8M248 -140h24M296 -140h8M368 -148h8M136 -156h8M344 -164h8M200 -180h40M264 -180h8M72 -196h8M160 -196h32M144 -212h8M72 -220h8M72 -228h8M120 -228h8M272 -228h8M80 -236h40M280 -236h40M320 -252h40M360 -260h8"/><path stroke="#e7f0f4" d="M160 4h8M160 -4h8M96 -20h32M32 -36h8M24 -44h8M288 -44h24M-16 -52h40M280 -52h8M288 -68h8M224 -100h8M240 -108h8M240 -116h8M240 -124h8M344 -132h16M272 -140h24M376 -148h24M304 -156h8M248 -172h24M192 -188h8M152 -196h8M72 -204h8M72 -212h8M136 -212h8M272 -212h8M120 -220h8M272 -220h8M80 -228h40M280 -228h32M320 -244h8M360 -252h8M368 -268h32"/><path stroke="#e4eef4" d="M-16 4h176M-16 -4h176M-16 -12h152M-16 -20h112M-16 -28h104M-16 -36h48M-16 -44h40M312 -44h8M352 -44h8M288 -60h8M296 -92h32M232 -100h8M296 -100h32M296 -108h32M336 -124h8M240 -132h8M360 -132h8M368 -140h8M248 -148h16M144 -156h8M248 -156h16M248 -164h16M216 -172h32M192 -180h8M272 -180h8M152 -188h40M272 -188h8M272 -196h8M144 -204h8M272 -204h8M120 -212h16M112 -220h8M312 -228h8M320 -236h8M328 -244h32M368 -260h8"/><path stroke="#e1edf3" d="M320 -44h32M288 -52h8M368 -52h32M296 -84h32M328 -92h8M328 -100h8M328 -108h8M336 -116h8M368 -132h8M160 -140h8M376 -140h24M264 -148h8M296 -148h8M264 -156h8M264 -164h8M200 -172h16M272 -172h8M344 -172h8M160 -180h32M360 -180h40M144 -196h8M136 -204h8M112 -212h8M80 -220h32M280 -220h40M320 -228h8M328 -236h32M360 -244h8M368 -252h32M376 -260h24"/><path stroke="#e0ecf3" d="M296 -52h16M296 -60h16M368 -60h32M296 -68h16M376 -68h24M296 -76h32M376 -76h24M328 -84h16M368 -84h32M336 -92h64M336 -100h64M336 -108h64M344 -116h56M344 -124h56M168 -132h8M376 -132h24M240 -140h8M272 -148h24M240 -156h8M272 -156h32M80 -164h40M240 -164h8M272 -164h72M80 -172h40M192 -172h8M280 -172h32M80 -180h40M144 -180h16M280 -180h32M352 -180h8M80 -188h72M280 -188h32M80 -196h64M280 -196h32M80 -204h56M280 -204h32M80 -212h32M280 -212h40M320 -220h8M328 -228h32M360 -236h8M368 -244h32"/><path stroke="#ddebf2" d="M312 -52h8M360 -52h8M312 -60h8M360 -60h8M312 -68h8M368 -68h8M328 -76h48M344 -84h24M200 -108h8M176 -124h16M152 -148h8M240 -148h8M152 -156h8M120 -164h8M216 -164h24M120 -172h8M144 -172h48M312 -172h32M120 -180h24M312 -180h16M344 -180h8M312 -188h8M312 -196h8M312 -204h8M320 -212h40M328 -220h40M360 -228h8M368 -236h32"/><path stroke="#dae9f2" d="M320 -52h40M320 -60h40M320 -68h48M232 -108h8M200 -116h8M232 -116h8M192 -124h8M232 -124h8M168 -140h8M216 -156h24M128 -164h88M128 -172h16M328 -180h16M320 -188h80M320 -196h80M320 -204h80M360 -212h40M368 -220h32M368 -228h32"/><path stroke="#d7e8f1" d="M224 -108h8M224 -116h8M224 -124h8M232 -132h8M160 -156h56"/><path stroke="#d5e7f1" d="M208 -108h16M208 -116h16M200 -124h24M176 -132h56M176 -140h64M160 -148h80"/></g></g></g>
<line x1="128.1" y1="267.07" x2="509.6" y2="267.07" stroke="#d2d2d2" stroke-width="4.3" stroke-dasharray="15.35 7.03"/>
<path d="M128.1 9V344.57" stroke="#000" stroke-width="2.22" fill="none"/>
<path d="M128.1 325.2H509.6" stroke="#000" stroke-width="2.22" stroke-linecap="square" fill="none"/>
<path d="M118.38 325.2H128.1M118.38 247.7H128.1M118.38 170.2H128.1M118.38 92.7H128.1M118.38 15.2H128.1M128.1 325.2V334.92M280.7 325.2V334.92M433.3 325.2V334.92" stroke="#000" stroke-width="2.22" fill="none"/>
<text transform="translate(109.46 337) scale(1.04 1)" text-anchor="end">0</text>
<text transform="translate(109.46 259.5) scale(1.04 1)" text-anchor="end">2</text>
<text transform="translate(109.46 182) scale(1.04 1)" text-anchor="end">4</text>
<text transform="translate(109.46 104.5) scale(1.04 1)" text-anchor="end">6</text>
<text transform="translate(109.46 27) scale(1.04 1)" text-anchor="end">8</text>
<text transform="translate(280.7 55.4) scale(1.025 1)">E1</text>
<path d="M198.3 323.51L203.86 334.63H192.74Z" fill="#000"/>
<line x1="548.6" y1="267.07" x2="930.1" y2="267.07" stroke="#d2d2d2" stroke-width="4.3" stroke-dasharray="15.35 7.03"/>
<path d="M548.6 9V344.57" stroke="#000" stroke-width="2.22" fill="none"/>
<path d="M548.6 325.2H930.1" stroke="#000" stroke-width="2.22" stroke-linecap="square" fill="none"/>
<path d="M538.88 325.2H548.6M538.88 247.7H548.6M538.88 170.2H548.6M538.88 92.7H548.6M538.88 15.2H548.6M548.6 325.2V334.92M701.2 325.2V334.92M853.8 325.2V334.92" stroke="#000" stroke-width="2.22" fill="none"/>
<text transform="translate(701.2 55.4) scale(1.025 1)">E2</text>
<path d="M661.07 323.51L666.63 334.63H655.51Z" fill="#000"/>
<line x1="969" y1="267.07" x2="1350.5" y2="267.07" stroke="#d2d2d2" stroke-width="4.3" stroke-dasharray="15.35 7.03"/>
<path d="M969 9V344.57" stroke="#000" stroke-width="2.22" fill="none"/>
<path d="M969 325.2H1350.5" stroke="#000" stroke-width="2.22" stroke-linecap="square" fill="none"/>
<path d="M959.28 325.2H969M959.28 247.7H969M959.28 170.2H969M959.28 92.7H969M959.28 15.2H969M969 325.2V334.92M1121.6 325.2V334.92M1274.2 325.2V334.92" stroke="#000" stroke-width="2.22" fill="none"/>
<text transform="translate(1121.6 55.4) scale(1.025 1)">E3</text>
<path d="M1110 323.51L1115.56 334.63H1104.44Z" fill="#000"/>
<line x1="1389.3" y1="267.07" x2="1770.8" y2="267.07" stroke="#d2d2d2" stroke-width="4.3" stroke-dasharray="15.35 7.03"/>
<path d="M1389.3 9V344.57" stroke="#000" stroke-width="2.22" fill="none"/>
<path d="M1389.3 325.2H1770.8" stroke="#000" stroke-width="2.22" stroke-linecap="square" fill="none"/>
<path d="M1379.58 325.2H1389.3M1379.58 247.7H1389.3M1379.58 170.2H1389.3M1379.58 92.7H1389.3M1379.58 15.2H1389.3M1389.3 325.2V334.92M1541.9 325.2V334.92M1694.5 325.2V334.92" stroke="#000" stroke-width="2.22" fill="none"/>
<text transform="translate(1541.9 55.4) scale(1.025 1)">E4</text>
<path d="M1562.96 323.51L1568.52 334.63H1557.4Z" fill="#000"/>
<line x1="128.1" y1="635.67" x2="509.6" y2="635.67" stroke="#d2d2d2" stroke-width="4.3" stroke-dasharray="15.35 7.03"/>
<path d="M128.1 377.6V713.17" stroke="#000" stroke-width="2.22" fill="none"/>
<path d="M128.1 693.8H509.6" stroke="#000" stroke-width="2.22" stroke-linecap="square" fill="none"/>
<path d="M118.38 693.8H128.1M118.38 616.3H128.1M118.38 538.8H128.1M118.38 461.3H128.1M118.38 383.8H128.1M128.1 693.8V703.52M280.7 693.8V703.52M433.3 693.8V703.52" stroke="#000" stroke-width="2.22" fill="none"/>
<text transform="translate(109.46 705.6) scale(1.04 1)" text-anchor="end">0</text>
<text transform="translate(109.46 628.1) scale(1.04 1)" text-anchor="end">2</text>
<text transform="translate(109.46 550.6) scale(1.04 1)" text-anchor="end">4</text>
<text transform="translate(109.46 473.1) scale(1.04 1)" text-anchor="end">6</text>
<text transform="translate(109.46 395.6) scale(1.04 1)" text-anchor="end">8</text>
<text transform="translate(280.7 424) scale(1.025 1)">E5</text>
<path d="M330.91 692.12L336.47 703.23H325.35Z" fill="#000"/>
<line x1="548.6" y1="635.67" x2="930.1" y2="635.67" stroke="#d2d2d2" stroke-width="4.3" stroke-dasharray="15.35 7.03"/>
<path d="M548.6 377.6V713.17" stroke="#000" stroke-width="2.22" fill="none"/>
<path d="M548.6 693.8H930.1" stroke="#000" stroke-width="2.22" stroke-linecap="square" fill="none"/>
<path d="M538.88 693.8H548.6M538.88 616.3H548.6M538.88 538.8H548.6M538.88 461.3H548.6M538.88 383.8H548.6M548.6 693.8V703.52M701.2 693.8V703.52M853.8 693.8V703.52" stroke="#000" stroke-width="2.22" fill="none"/>
<text transform="translate(701.2 424) scale(1.025 1)">E6</text>
<path d="M779.94 692.12L785.5 703.23H774.38Z" fill="#000"/>
<line x1="969" y1="635.67" x2="1350.5" y2="635.67" stroke="#d2d2d2" stroke-width="4.3" stroke-dasharray="15.35 7.03"/>
<path d="M969 377.6V713.17" stroke="#000" stroke-width="2.22" fill="none"/>
<path d="M969 693.8H1350.5" stroke="#000" stroke-width="2.22" stroke-linecap="square" fill="none"/>
<path d="M959.28 693.8H969M959.28 616.3H969M959.28 538.8H969M959.28 461.3H969M959.28 383.8H969M969 693.8V703.52M1121.6 693.8V703.52M1274.2 693.8V703.52" stroke="#000" stroke-width="2.22" fill="none"/>
<text transform="translate(1121.6 424) scale(1.025 1)">E7</text>
<path d="M1225.06 692.12L1230.62 703.23H1219.5Z" fill="#000"/>
<line x1="1389.3" y1="635.67" x2="1770.8" y2="635.67" stroke="#d2d2d2" stroke-width="4.3" stroke-dasharray="15.35 7.03"/>
<path d="M1389.3 377.6V713.17" stroke="#000" stroke-width="2.22" fill="none"/>
<path d="M1389.3 693.8H1770.8" stroke="#000" stroke-width="2.22" stroke-linecap="square" fill="none"/>
<path d="M1379.58 693.8H1389.3M1379.58 616.3H1389.3M1379.58 538.8H1389.3M1379.58 461.3H1389.3M1379.58 383.8H1389.3M1389.3 693.8V703.52M1541.9 693.8V703.52M1694.5 693.8V703.52" stroke="#000" stroke-width="2.22" fill="none"/>
<text transform="translate(1541.9 424) scale(1.025 1)">E8</text>
<path d="M1672.07 692.12L1677.63 703.23H1666.51Z" fill="#000"/>
<line x1="128.1" y1="1003.88" x2="509.6" y2="1003.88" stroke="#d2d2d2" stroke-width="4.3" stroke-dasharray="15.35 7.03"/>
<path d="M128.1 745.8V1081.38" stroke="#000" stroke-width="2.22" fill="none"/>
<path d="M128.1 1062H509.6" stroke="#000" stroke-width="2.22" stroke-linecap="square" fill="none"/>
<path d="M118.38 1062H128.1M118.38 984.5H128.1M118.38 907H128.1M118.38 829.5H128.1M118.38 752H128.1M128.1 1062V1071.72M280.7 1062V1071.72M433.3 1062V1071.72" stroke="#000" stroke-width="2.22" fill="none"/>
<text transform="translate(109.46 1073.8) scale(1.04 1)" text-anchor="end">0</text>
<text transform="translate(109.46 996.3) scale(1.04 1)" text-anchor="end">2</text>
<text transform="translate(109.46 918.8) scale(1.04 1)" text-anchor="end">4</text>
<text transform="translate(109.46 841.3) scale(1.04 1)" text-anchor="end">6</text>
<text transform="translate(109.46 763.8) scale(1.04 1)" text-anchor="end">8</text>
<text transform="translate(128.1 1105) scale(1.05 1)" text-anchor="middle">0</text>
<text transform="translate(280.7 1105) scale(1.05 1)" text-anchor="middle">10</text>
<text transform="translate(433.3 1105) scale(1.05 1)" text-anchor="middle">20</text>
<text transform="translate(280.7 792.2) scale(1.025 1)">E9</text>
<path d="M434.52 1060.32L440.08 1071.43H428.96Z" fill="#000"/>
<line x1="548.6" y1="1003.88" x2="930.1" y2="1003.88" stroke="#d2d2d2" stroke-width="4.3" stroke-dasharray="15.35 7.03"/>
<path d="M548.6 745.8V1081.38" stroke="#000" stroke-width="2.22" fill="none"/>
<path d="M548.6 1062H930.1" stroke="#000" stroke-width="2.22" stroke-linecap="square" fill="none"/>
<path d="M538.88 1062H548.6M538.88 984.5H548.6M538.88 907H548.6M538.88 829.5H548.6M538.88 752H548.6M548.6 1062V1071.72M701.2 1062V1071.72M853.8 1062V1071.72" stroke="#000" stroke-width="2.22" fill="none"/>
<text transform="translate(548.6 1105) scale(1.05 1)" text-anchor="middle">0</text>
<text transform="translate(701.2 1105) scale(1.05 1)" text-anchor="middle">10</text>
<text transform="translate(853.8 1105) scale(1.05 1)" text-anchor="middle">20</text>
<text transform="translate(701.2 792.2) scale(1.025 1)">E10</text>
<path d="M875.01 1060.32L880.57 1071.43H869.45Z" fill="#000"/>
<line x1="969" y1="1003.88" x2="1350.5" y2="1003.88" stroke="#d2d2d2" stroke-width="4.3" stroke-dasharray="15.35 7.03"/>
<path d="M969 745.8V1081.38" stroke="#000" stroke-width="2.22" fill="none"/>
<path d="M969 1062H1350.5" stroke="#000" stroke-width="2.22" stroke-linecap="square" fill="none"/>
<path d="M959.28 1062H969M959.28 984.5H969M959.28 907H969M959.28 829.5H969M959.28 752H969M969 1062V1071.72M1121.6 1062V1071.72M1274.2 1062V1071.72" stroke="#000" stroke-width="2.22" fill="none"/>
<text transform="translate(969 1105) scale(1.05 1)" text-anchor="middle">0</text>
<text transform="translate(1121.6 1105) scale(1.05 1)" text-anchor="middle">10</text>
<text transform="translate(1274.2 1105) scale(1.05 1)" text-anchor="middle">20</text>
<text transform="translate(1121.6 792.2) scale(1.025 1)">E11</text>
<path d="M1314.03 1060.32L1319.59 1071.43H1308.47Z" fill="#000"/>
<line x1="1389.3" y1="1003.88" x2="1770.8" y2="1003.88" stroke="#d2d2d2" stroke-width="4.3" stroke-dasharray="15.35 7.03"/>
<path d="M1389.3 745.8V1081.38" stroke="#000" stroke-width="2.22" fill="none"/>
<path d="M1389.3 1062H1770.8" stroke="#000" stroke-width="2.22" stroke-linecap="square" fill="none"/>
<path d="M1379.58 1062H1389.3M1379.58 984.5H1389.3M1379.58 907H1389.3M1379.58 829.5H1389.3M1379.58 752H1389.3M1389.3 1062V1071.72M1541.9 1062V1071.72M1694.5 1062V1071.72" stroke="#000" stroke-width="2.22" fill="none"/>
<text transform="translate(1389.3 1105) scale(1.05 1)" text-anchor="middle">0</text>
<text transform="translate(1541.9 1105) scale(1.05 1)" text-anchor="middle">10</text>
<text transform="translate(1694.5 1105) scale(1.05 1)" text-anchor="middle">20</text>
<text transform="translate(1541.9 792.2) scale(1.025 1)">E12</text>
<path d="M1750.81 1060.32L1756.37 1071.43H1745.25Z" fill="#000"/>
<rect x="1812.2" y="10" width="60.8" height="1071" fill="url(#cb)" stroke="#000" stroke-width="2.22"/>
<text transform="translate(1892.44 155.5) scale(1.025 1)">0.4</text>
<text transform="translate(1892.44 338.4) scale(1.025 1)">0.2</text>
<text transform="translate(1892.44 521.3) scale(1.025 1)">0.0</text>
<text transform="translate(1892.44 704.2) scale(1.025 1)">−0.2</text>
<text transform="translate(1892.44 887.1) scale(1.025 1)">−0.4</text>
<text transform="translate(1892.44 1070) scale(1.025 1)">−0.6</text>
<path d="M1873 143H1882.72M1873 325.9H1882.72M1873 508.8H1882.72M1873 691.7H1882.72M1873 874.6H1882.72M1873 1057.5H1882.72" stroke="#000" stroke-width="2.22" fill="none"/>
<text transform="translate(1000.8 1192.2) scale(1.013 1)" text-anchor="middle">Distance along SL (mm)</text>
<text transform="translate(27.9 595.9) rotate(-90) scale(1.022 1)" text-anchor="middle">Distance along neuron (mm)</text>
<text transform="translate(1997 547.1) rotate(-90) scale(1.022 1)" text-anchor="middle">∂<tspan font-size="19.4" dy="-10">2</tspan><tspan font-style="italic" dy="10">V</tspan>/∂<tspan font-style="italic">x</tspan><tspan font-size="19.4" dy="-10">2</tspan><tspan dy="10"> (V/mm</tspan><tspan font-size="19.4" dy="-10">2</tspan><tspan dy="10">)</tspan></text>
</svg>
</body></html>
